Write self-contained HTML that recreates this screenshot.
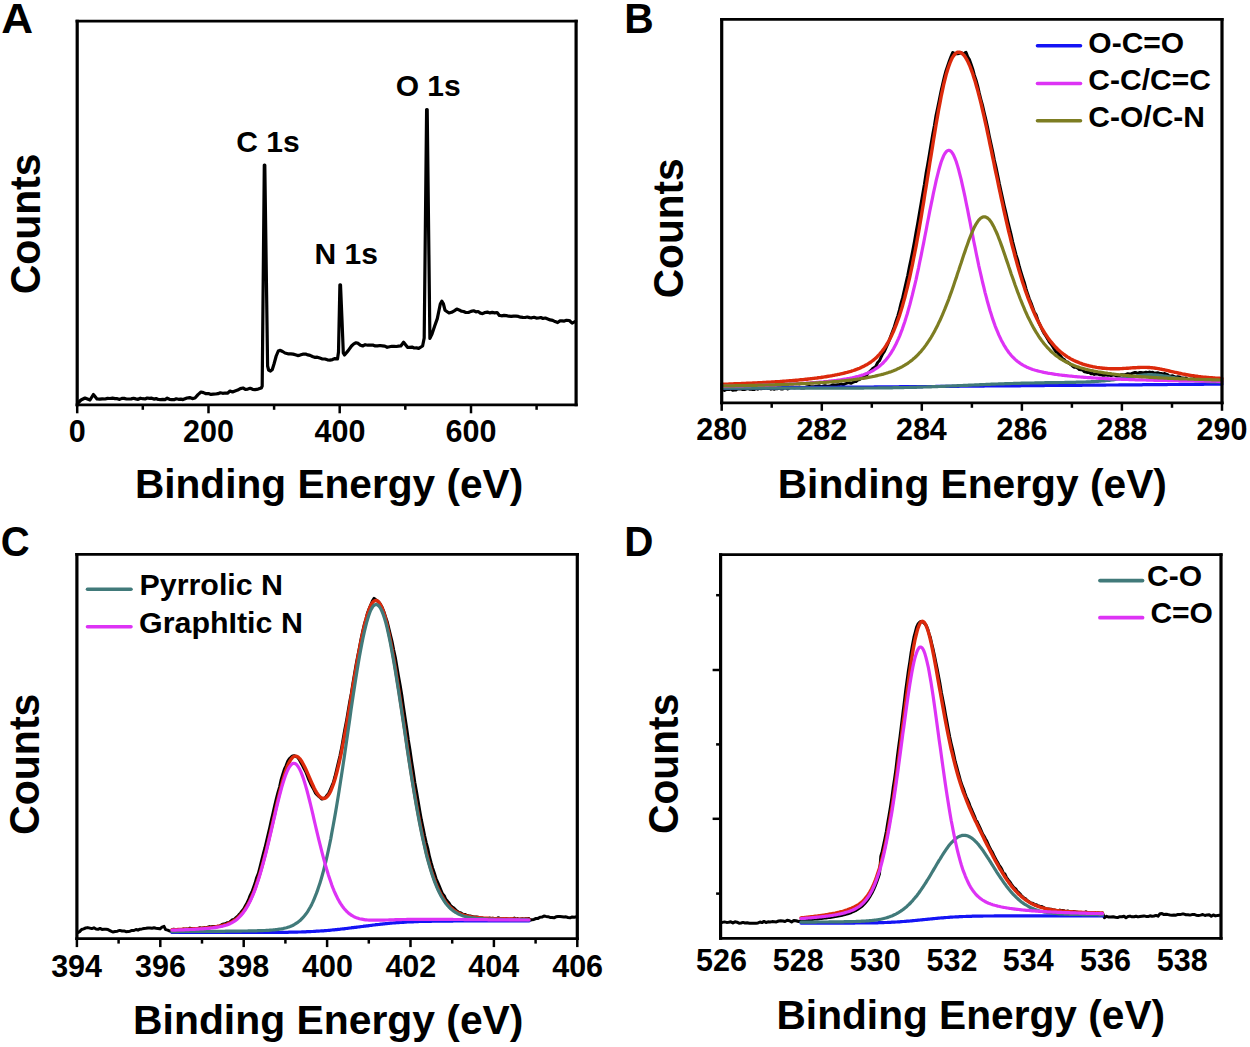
<!DOCTYPE html><html><head><meta charset="utf-8"><title>XPS spectra</title><style>html,body{margin:0;padding:0;background:#fff;width:1250px;height:1047px;overflow:hidden}svg{display:block}text{font-family:"Liberation Sans",sans-serif;font-weight:bold;fill:#000}</style></head><body>
<svg width="1250" height="1047" viewBox="0 0 1250 1047">
<polyline points="78.0,403.0 81.0,400.0 85.0,398.0 87.5,399.0 90.0,400.0 93.4,394.5 97.0,399.0 99.7,399.2 102.3,398.8 105.0,399.0 107.5,398.4 110.0,398.5 112.5,398.2 115.0,398.6 117.3,398.7 119.6,399.4 121.9,398.4 124.2,398.4 126.5,399.0 128.8,399.0 131.2,398.9 133.5,398.3 135.8,398.9 138.1,399.3 140.4,398.2 142.7,398.7 145.0,399.0 147.2,398.0 149.4,398.4 151.7,398.2 153.9,399.1 156.1,398.6 158.3,399.5 160.6,399.6 162.8,399.4 165.0,399.6 167.2,398.2 169.5,399.3 171.8,399.6 174.0,399.7 176.2,398.8 178.5,399.3 180.8,399.1 183.0,399.6 187.0,398.0 189.7,397.6 192.3,398.6 195.0,398.0 198.0,394.6 201.0,392.0 203.5,392.6 206.0,393.7 208.5,393.5 211.0,394.4 213.3,394.1 215.7,394.0 218.0,393.7 220.3,392.8 222.7,393.3 225.0,393.0 227.5,393.2 230.0,391.1 232.5,392.0 235.0,391.0 237.7,390.1 240.3,388.6 243.0,388.0 245.4,389.4 247.8,389.1 250.2,388.3 252.6,389.3 255.0,389.6 258.1,389.1 261.3,388.0 262.2,386.0 264.3,165.0 264.8,165.0 267.6,366.0 268.6,370.0 270.5,371.0 272.3,369.5 274.0,364.0 276.2,356.0 278.3,351.0 280.3,350.3 282.6,351.5 285.0,353.0 287.9,353.8 290.8,353.8 293.1,354.1 295.4,354.8 297.7,355.6 300.0,355.1 302.8,354.2 305.6,354.0 307.9,354.9 310.1,355.4 312.4,356.5 314.6,357.3 317.2,357.2 319.8,358.1 322.4,359.0 324.9,359.0 327.4,359.8 330.0,360.1 332.5,359.6 335.0,358.6 337.5,359.0 338.5,352.0 339.9,284.8 340.5,284.8 342.0,320.0 343.3,353.0 344.5,355.0 348.2,350.6 351.5,346.0 353.8,343.9 356.0,342.8 358.2,343.4 360.5,345.3 362.7,346.0 365.2,344.7 367.8,345.2 370.3,345.2 372.8,345.0 375.2,345.9 377.6,345.9 380.0,345.5 382.4,345.8 384.8,346.1 387.2,347.3 389.6,346.7 391.8,346.3 394.1,346.3 396.3,346.5 398.6,346.1 400.8,346.0 403.6,342.2 407.5,347.3 409.7,347.4 412.0,347.1 414.2,348.0 416.5,347.9 418.7,348.4 422.6,346.0 424.2,338.0 426.6,109.5 427.2,109.5 429.9,338.4 432.0,334.0 434.6,326.3 437.3,318.6 440.3,304.0 441.8,301.2 443.3,303.5 445.0,310.2 449.0,313.0 451.6,312.3 454.2,310.8 456.8,309.1 459.1,309.9 461.3,311.2 463.6,311.5 465.8,312.5 468.4,312.5 471.0,311.4 473.6,310.8 475.9,311.8 478.1,311.5 480.4,313.1 482.6,313.6 485.0,312.5 487.4,312.1 489.9,312.9 492.3,312.4 494.7,312.8 497.1,312.5 499.4,315.4 501.6,315.8 504.0,315.4 506.4,315.6 508.8,316.2 511.2,316.4 513.6,316.1 516.0,316.2 518.4,316.4 520.6,317.2 522.9,317.4 525.1,317.5 527.3,317.0 529.6,317.6 531.8,317.8 534.0,317.3 536.3,318.1 538.5,318.0 540.8,317.5 543.0,318.5 545.3,318.0 547.8,319.0 550.2,319.9 552.7,320.4 555.1,321.6 557.6,322.6 559.8,320.9 562.0,320.8 564.3,321.1 566.5,320.3 569.3,320.5 572.1,323.1 575.5,321.4" fill="none" stroke="#000" stroke-width="3.2" stroke-linejoin="round" stroke-linecap="round"/>
<path d="M75.60 21.20H577.70M75.60 404.80H577.70" stroke="#000" stroke-width="2.8" fill="none"/>
<path d="M77.20 19.80V406.20M576.10 19.80V406.20" stroke="#000" stroke-width="3.2" fill="none"/>
<line x1="77.2" y1="404.8" x2="77.2" y2="413.3" stroke="#000" stroke-width="2.5" stroke-linecap="butt"/>
<line x1="142.8" y1="404.8" x2="142.8" y2="409.8" stroke="#000" stroke-width="2.5" stroke-linecap="butt"/>
<line x1="208.5" y1="404.8" x2="208.5" y2="413.3" stroke="#000" stroke-width="2.5" stroke-linecap="butt"/>
<line x1="274.1" y1="404.8" x2="274.1" y2="409.8" stroke="#000" stroke-width="2.5" stroke-linecap="butt"/>
<line x1="339.7" y1="404.8" x2="339.7" y2="413.3" stroke="#000" stroke-width="2.5" stroke-linecap="butt"/>
<line x1="405.3" y1="404.8" x2="405.3" y2="409.8" stroke="#000" stroke-width="2.5" stroke-linecap="butt"/>
<line x1="471.0" y1="404.8" x2="471.0" y2="413.3" stroke="#000" stroke-width="2.5" stroke-linecap="butt"/>
<line x1="536.6" y1="404.8" x2="536.6" y2="409.8" stroke="#000" stroke-width="2.5" stroke-linecap="butt"/>
<text x="68.70" y="441.90" font-size="30.5">0</text>
<text x="183.08" y="441.90" font-size="30.5">200</text>
<text x="314.59" y="441.90" font-size="30.5">400</text>
<text x="445.60" y="441.90" font-size="30.5">600</text>
<text x="236.35" y="152.40" font-size="30">C 1s</text>
<text x="314.50" y="263.80" font-size="30">N 1s</text>
<text x="395.65" y="96.00" font-size="30">O 1s</text>
<text transform="translate(1.27,32.70) scale(1.0261,1)" font-size="43">A</text>
<text transform="translate(134.91,497.80) scale(0.9792,1)" font-size="41.5">Binding Energy (eV)</text>
<text transform="translate(39.50,294.37) rotate(-90) scale(0.9558,1)" font-size="42.8">Counts</text>
<polyline points="722.7,389.7 724.4,390.5 726.0,389.6 727.7,389.6 729.4,389.5 731.0,388.9 732.7,390.2 734.4,389.9 736.0,390.0 737.7,388.8 739.4,388.9 741.0,388.8 742.7,389.5 744.4,389.6 746.0,389.0 747.7,388.6 749.4,389.2 751.0,389.0 752.7,389.6 754.4,389.5 756.0,388.5 757.7,389.2 759.4,388.3 761.0,388.8 762.7,388.5 764.4,388.6 766.0,388.1 767.7,388.4 769.4,388.3 771.0,389.2 772.7,388.6 774.4,389.3 776.0,388.4 777.7,388.7 779.4,388.0 781.0,388.9 782.7,388.9 784.4,387.7 786.0,388.0 787.7,389.0 789.4,388.0 791.0,387.3 792.7,387.3 794.4,387.8 796.0,387.5 797.7,387.5 799.4,387.1 801.0,387.9 802.7,387.9 804.4,387.9 806.0,387.1 807.7,386.8 809.4,386.5 811.0,386.7 812.7,386.7 814.4,386.7 816.0,386.3 817.7,386.1 819.4,385.8 821.0,386.8 822.7,386.2 824.4,385.8 826.0,385.8 827.7,386.4 829.4,385.9 831.0,385.7 832.7,384.8 834.4,385.0 836.0,385.0 837.7,384.8 839.4,384.7 841.0,384.0 842.7,384.7 844.4,384.2 846.0,383.5 847.7,382.8 849.4,382.8 851.0,383.3 852.7,382.5 854.4,381.6 856.0,381.6 857.7,380.2 859.4,379.6 861.0,377.9 862.7,377.6 864.4,377.3 866.0,376.5 867.7,373.5 869.4,371.9 871.0,370.5 872.7,368.6 874.4,367.5 876.0,366.0 877.7,362.5 879.4,360.8 881.0,357.3 882.7,353.9 884.4,351.5 886.0,347.8 887.7,344.2 889.4,340.0 891.0,335.6 892.7,331.0 894.4,326.5 896.0,321.3 897.7,316.1 899.4,310.2 901.0,303.4 902.7,297.4 904.4,289.9 906.0,282.9 907.7,275.5 909.4,266.7 911.0,259.4 912.7,250.8 914.4,241.8 916.0,232.6 917.7,223.2 919.4,213.3 921.0,203.9 922.7,193.9 924.4,184.2 926.0,173.6 927.7,164.3 929.4,154.3 931.0,144.4 932.7,134.6 934.4,125.6 936.0,115.5 937.7,107.6 939.4,99.2 941.0,91.3 942.7,83.9 944.4,76.7 946.0,70.7 947.7,65.6 949.4,60.7 951.0,56.5 952.7,52.5 954.4,53.4 956.0,53.7 957.7,53.7 959.4,53.3 961.0,52.5 962.7,53.6 964.4,53.1 966.0,52.3 967.7,56.8 969.4,59.6 971.0,63.9 972.7,69.0 974.3,75.0 976.0,79.9 977.7,86.2 979.3,93.2 981.0,99.8 982.7,106.0 984.3,113.1 986.0,120.1 987.7,127.9 989.3,136.1 991.0,143.9 992.7,151.6 994.3,159.9 996.0,167.0 997.7,175.2 999.3,183.3 1001.0,191.0 1002.7,198.9 1004.3,206.1 1006.0,213.2 1007.7,220.8 1009.3,227.3 1011.0,234.0 1012.7,241.8 1014.3,248.1 1016.0,254.6 1017.7,259.9 1019.3,266.5 1021.0,272.2 1022.7,277.7 1024.3,282.5 1026.0,288.6 1027.7,294.1 1029.3,298.7 1031.0,302.8 1032.7,307.5 1034.3,312.1 1036.0,314.5 1037.7,319.5 1039.3,323.5 1041.0,327.0 1042.7,330.8 1044.3,333.7 1046.0,336.3 1047.7,339.1 1049.3,342.0 1051.0,343.9 1052.7,346.5 1054.3,349.2 1056.0,351.8 1057.7,352.8 1059.3,354.7 1061.0,356.6 1062.7,358.7 1064.3,359.6 1066.0,361.7 1067.7,362.0 1069.3,363.6 1071.0,364.7 1072.7,366.2 1074.3,367.3 1076.0,367.1 1077.7,368.2 1079.3,369.5 1081.0,369.8 1082.7,370.0 1084.3,371.8 1086.0,372.1 1087.7,372.6 1089.3,372.6 1091.0,373.7 1092.7,373.5 1094.3,374.4 1096.0,373.8 1097.7,374.0 1099.3,374.7 1101.0,374.5 1102.7,375.3 1104.3,375.2 1106.0,374.8 1107.7,375.3 1109.3,375.1 1111.0,375.7 1112.7,375.0 1114.3,375.0 1116.0,375.7 1117.7,376.1 1119.3,375.8 1121.0,374.8 1122.7,374.7 1124.3,375.2 1126.0,374.3 1127.7,373.7 1129.3,374.0 1131.0,373.9 1132.7,373.2 1134.3,372.6 1136.0,372.5 1137.7,373.3 1139.3,372.5 1141.0,372.6 1142.7,372.7 1144.3,372.8 1146.0,372.3 1147.7,372.7 1149.3,372.1 1151.0,372.4 1152.7,372.2 1154.3,373.3 1156.0,372.9 1157.7,372.8 1159.3,373.2 1161.0,373.5 1162.7,374.2 1164.3,373.5 1166.0,374.1 1167.7,374.7 1169.3,376.3 1171.0,375.9 1172.7,375.8 1174.3,376.5 1176.0,377.4 1177.7,376.7 1179.3,376.9 1181.0,377.9 1182.7,377.9 1184.3,378.2 1186.0,377.9 1187.7,379.3 1189.3,379.4 1191.0,379.1 1192.7,379.3 1194.3,378.3 1196.0,379.7 1197.7,379.4 1199.3,379.9 1201.0,380.1 1202.7,379.8 1204.3,379.3 1206.0,380.3 1207.7,379.9 1209.3,380.1 1211.0,380.1 1212.7,380.3 1214.3,379.4 1216.0,381.1 1217.7,380.7 1219.3,381.1 1221.0,381.6" fill="none" stroke="#000" stroke-width="3.0" stroke-linejoin="round" stroke-linecap="round"/>
<polyline points="721.7,384.3 723.0,384.2 724.2,384.2 725.5,384.1 726.7,384.1 728.0,384.1 729.2,384.0 730.5,384.0 731.7,383.9 733.0,383.9 734.2,383.8 735.5,383.8 736.7,383.7 738.0,383.7 739.3,383.6 740.5,383.6 741.8,383.5 743.0,383.5 744.3,383.4 745.5,383.4 746.8,383.3 748.0,383.3 749.3,383.2 750.5,383.2 751.8,383.1 753.0,383.0 754.3,383.0 755.6,382.9 756.8,382.9 758.1,382.8 759.3,382.7 760.6,382.7 761.8,382.6 763.1,382.5 764.3,382.5 765.6,382.4 766.8,382.3 768.1,382.3 769.3,382.2 770.6,382.1 771.9,382.0 773.1,382.0 774.4,381.9 775.6,381.8 776.9,381.7 778.1,381.6 779.4,381.6 780.6,381.5 781.9,381.4 783.1,381.3 784.4,381.2 785.6,381.1 786.9,381.0 788.2,380.9 789.4,380.8 790.7,380.7 791.9,380.6 793.2,380.5 794.4,380.4 795.7,380.3 796.9,380.2 798.2,380.1 799.4,379.9 800.7,379.8 801.9,379.7 803.2,379.6 804.5,379.4 805.7,379.3 807.0,379.2 808.2,379.0 809.5,378.9 810.7,378.7 812.0,378.6 813.2,378.4 814.5,378.3 815.7,378.1 817.0,378.0 818.2,377.8 819.5,377.6 820.8,377.5 822.0,377.3 823.3,377.1 824.5,376.9 825.8,376.7 827.0,376.5 828.3,376.3 829.5,376.1 830.8,375.9 832.0,375.7 833.3,375.4 834.5,375.2 835.8,374.9 837.1,374.7 838.3,374.4 839.6,374.2 840.8,373.9 842.1,373.6 843.3,373.3 844.6,373.0 845.8,372.7 847.1,372.4 848.3,372.0 849.6,371.7 850.9,371.3 852.1,370.9 853.4,370.5 854.6,370.1 855.9,369.6 857.1,369.2 858.4,368.7 859.6,368.2 860.9,367.6 862.1,367.0 863.4,366.4 864.6,365.8 865.9,365.1 867.2,364.4 868.4,363.6 869.7,362.8 870.9,362.0 872.2,361.0 873.4,360.1 874.7,359.0 875.9,357.9 877.2,356.7 878.4,355.4 879.7,354.1 880.9,352.6 882.2,351.1 883.5,349.4 884.7,347.6 886.0,345.7 887.2,343.7 888.5,341.5 889.7,339.2 891.0,336.8 892.2,334.1 893.5,331.3 894.7,328.4 896.0,325.2 897.2,321.9 898.5,318.4 899.8,314.6 901.0,310.7 902.3,306.5 903.5,302.1 904.8,297.5 906.0,292.7 907.3,287.6 908.5,282.4 909.8,276.8 911.0,271.1 912.3,265.1 913.5,258.9 914.8,252.5 916.1,245.9 917.3,239.1 918.6,232.1 919.8,224.9 921.1,217.5 922.3,210.0 923.6,202.4 924.8,194.6 926.1,186.8 927.3,178.9 928.6,171.0 929.8,163.0 931.1,155.1 932.4,147.2 933.6,139.4 934.9,131.8 936.1,124.3 937.4,117.0 938.6,109.9 939.9,103.2 941.1,96.7 942.4,90.6 943.6,84.9 944.9,79.7 946.1,74.8 947.4,70.4 948.7,66.5 949.9,63.1 951.2,60.1 952.4,57.6 953.7,55.6 954.9,54.1 956.2,53.0 957.4,52.3 958.7,52.1 959.9,52.2 961.2,52.8 962.4,53.7 963.7,55.0 965.0,56.6 966.2,58.6 967.5,60.9 968.7,63.5 970.0,66.4 971.2,69.6 972.5,73.1 973.7,76.9 975.0,80.9 976.2,85.2 977.5,89.7 978.7,94.4 980.0,99.4 981.3,104.5 982.5,109.8 983.8,115.3 985.0,120.9 986.3,126.6 987.5,132.4 988.8,138.4 990.0,144.3 991.3,150.4 992.5,156.4 993.8,162.5 995.0,168.6 996.3,174.6 997.6,180.7 998.8,186.6 1000.1,192.6 1001.3,198.4 1002.6,204.2 1003.8,209.9 1005.1,215.5 1006.3,221.0 1007.6,226.5 1008.8,231.8 1010.1,236.9 1011.3,242.0 1012.6,247.0 1013.9,251.8 1015.1,256.5 1016.4,261.1 1017.6,265.6 1018.9,269.9 1020.1,274.1 1021.4,278.2 1022.6,282.2 1023.9,286.0 1025.1,289.8 1026.4,293.4 1027.6,296.8 1028.9,300.2 1030.2,303.4 1031.4,306.5 1032.7,309.5 1033.9,312.4 1035.2,315.2 1036.4,317.9 1037.7,320.5 1038.9,322.9 1040.2,325.3 1041.4,327.6 1042.7,329.7 1043.9,331.8 1045.2,333.8 1046.5,335.7 1047.7,337.5 1049.0,339.2 1050.2,340.9 1051.5,342.4 1052.7,343.9 1054.0,345.4 1055.2,346.7 1056.5,348.0 1057.7,349.2 1059.0,350.4 1060.2,351.5 1061.5,352.6 1062.8,353.6 1064.0,354.5 1065.3,355.4 1066.5,356.3 1067.8,357.1 1069.0,357.8 1070.3,358.6 1071.5,359.3 1072.8,359.9 1074.0,360.5 1075.3,361.1 1076.5,361.7 1077.8,362.2 1079.1,362.7 1080.3,363.2 1081.6,363.6 1082.8,364.1 1084.1,364.5 1085.3,364.8 1086.6,365.2 1087.8,365.5 1089.1,365.8 1090.3,366.1 1091.6,366.4 1092.8,366.7 1094.1,366.9 1095.4,367.1 1096.6,367.4 1097.9,367.6 1099.1,367.7 1100.4,367.9 1101.6,368.0 1102.9,368.2 1104.1,368.3 1105.4,368.4 1106.6,368.5 1107.9,368.6 1109.2,368.6 1110.4,368.7 1111.7,368.7 1112.9,368.7 1114.2,368.7 1115.4,368.7 1116.7,368.7 1117.9,368.7 1119.2,368.7 1120.4,368.6 1121.7,368.6 1122.9,368.5 1124.2,368.4 1125.5,368.4 1126.7,368.3 1128.0,368.2 1129.2,368.1 1130.5,368.0 1131.7,367.9 1133.0,367.8 1134.2,367.8 1135.5,367.7 1136.7,367.6 1138.0,367.5 1139.2,367.5 1140.5,367.4 1141.8,367.4 1143.0,367.4 1144.3,367.4 1145.5,367.4 1146.8,367.4 1148.0,367.5 1149.3,367.5 1150.5,367.6 1151.8,367.7 1153.0,367.9 1154.3,368.0 1155.5,368.2 1156.8,368.4 1158.1,368.6 1159.3,368.8 1160.6,369.1 1161.8,369.3 1163.1,369.6 1164.3,369.8 1165.6,370.1 1166.8,370.4 1168.1,370.7 1169.3,371.0 1170.6,371.3 1171.8,371.6 1173.1,371.9 1174.4,372.2 1175.6,372.4 1176.9,372.7 1178.1,373.0 1179.4,373.3 1180.6,373.5 1181.9,373.8 1183.1,374.1 1184.4,374.3 1185.6,374.5 1186.9,374.8 1188.1,375.0 1189.4,375.2 1190.7,375.4 1191.9,375.6 1193.2,375.8 1194.4,376.0 1195.7,376.2 1196.9,376.3 1198.2,376.5 1199.4,376.6 1200.7,376.8 1201.9,376.9 1203.2,377.1 1204.4,377.2 1205.7,377.3 1207.0,377.4 1208.2,377.5 1209.5,377.6 1210.7,377.7 1212.0,377.8 1213.2,377.9 1214.5,378.0 1215.7,378.1 1217.0,378.2 1218.2,378.2 1219.5,378.3 1220.7,378.4 1222.0,378.4" fill="none" stroke="#dc2a0c" stroke-width="3.4" stroke-linejoin="round" stroke-linecap="round"/>
<polyline points="721.7,388.2 723.0,388.2 724.2,388.2 725.5,388.2 726.7,388.2 728.0,388.2 729.2,388.1 730.5,388.1 731.7,388.1 733.0,388.1 734.2,388.1 735.5,388.1 736.7,388.1 738.0,388.1 739.3,388.1 740.5,388.0 741.8,388.0 743.0,388.0 744.3,388.0 745.5,388.0 746.8,388.0 748.0,388.0 749.3,388.0 750.5,388.0 751.8,388.0 753.0,387.9 754.3,387.9 755.6,387.9 756.8,387.9 758.1,387.9 759.3,387.9 760.6,387.9 761.8,387.9 763.1,387.9 764.3,387.9 765.6,387.8 766.8,387.8 768.1,387.8 769.3,387.8 770.6,387.8 771.9,387.8 773.1,387.8 774.4,387.8 775.6,387.8 776.9,387.8 778.1,387.7 779.4,387.7 780.6,387.7 781.9,387.7 783.1,387.7 784.4,387.7 785.6,387.7 786.9,387.7 788.2,387.7 789.4,387.6 790.7,387.6 791.9,387.6 793.2,387.6 794.4,387.6 795.7,387.6 796.9,387.6 798.2,387.6 799.4,387.6 800.7,387.6 801.9,387.5 803.2,387.5 804.5,387.5 805.7,387.5 807.0,387.5 808.2,387.5 809.5,387.5 810.7,387.5 812.0,387.5 813.2,387.5 814.5,387.4 815.7,387.4 817.0,387.4 818.2,387.4 819.5,387.4 820.8,387.4 822.0,387.4 823.3,387.4 824.5,387.4 825.8,387.3 827.0,387.3 828.3,387.3 829.5,387.3 830.8,387.3 832.0,387.3 833.3,387.3 834.5,387.3 835.8,387.3 837.1,387.3 838.3,387.2 839.6,387.2 840.8,387.2 842.1,387.2 843.3,387.2 844.6,387.2 845.8,387.2 847.1,387.2 848.3,387.2 849.6,387.2 850.9,387.1 852.1,387.1 853.4,387.1 854.6,387.1 855.9,387.1 857.1,387.1 858.4,387.1 859.6,387.1 860.9,387.1 862.1,387.1 863.4,387.0 864.6,387.0 865.9,387.0 867.2,387.0 868.4,387.0 869.7,387.0 870.9,387.0 872.2,387.0 873.4,387.0 874.7,386.9 875.9,386.9 877.2,386.9 878.4,386.9 879.7,386.9 880.9,386.9 882.2,386.9 883.5,386.9 884.7,386.9 886.0,386.9 887.2,386.8 888.5,386.8 889.7,386.8 891.0,386.8 892.2,386.8 893.5,386.8 894.7,386.8 896.0,386.8 897.2,386.8 898.5,386.8 899.8,386.7 901.0,386.7 902.3,386.7 903.5,386.7 904.8,386.7 906.0,386.7 907.3,386.7 908.5,386.7 909.8,386.7 911.0,386.6 912.3,386.6 913.5,386.6 914.8,386.6 916.1,386.6 917.3,386.6 918.6,386.6 919.8,386.6 921.1,386.6 922.3,386.6 923.6,386.5 924.8,386.5 926.1,386.5 927.3,386.5 928.6,386.5 929.8,386.5 931.1,386.5 932.4,386.5 933.6,386.5 934.9,386.5 936.1,386.4 937.4,386.4 938.6,386.4 939.9,386.4 941.1,386.4 942.4,386.4 943.6,386.4 944.9,386.4 946.1,386.4 947.4,386.4 948.7,386.3 949.9,386.3 951.2,386.3 952.4,386.3 953.7,386.3 954.9,386.3 956.2,386.3 957.4,386.3 958.7,386.3 959.9,386.2 961.2,386.2 962.4,386.2 963.7,386.2 965.0,386.2 966.2,386.2 967.5,386.2 968.7,386.2 970.0,386.2 971.2,386.2 972.5,386.1 973.7,386.1 975.0,386.1 976.2,386.1 977.5,386.1 978.7,386.1 980.0,386.1 981.3,386.1 982.5,386.1 983.8,386.1 985.0,386.0 986.3,386.0 987.5,386.0 988.8,386.0 990.0,386.0 991.3,386.0 992.5,386.0 993.8,386.0 995.0,386.0 996.3,386.0 997.6,385.9 998.8,385.9 1000.1,385.9 1001.3,385.9 1002.6,385.9 1003.8,385.9 1005.1,385.9 1006.3,385.9 1007.6,385.9 1008.8,385.8 1010.1,385.8 1011.3,385.8 1012.6,385.8 1013.9,385.8 1015.1,385.8 1016.4,385.8 1017.6,385.8 1018.9,385.8 1020.1,385.8 1021.4,385.7 1022.6,385.7 1023.9,385.7 1025.1,385.7 1026.4,385.7 1027.6,385.7 1028.9,385.7 1030.2,385.7 1031.4,385.7 1032.7,385.7 1033.9,385.6 1035.2,385.6 1036.4,385.6 1037.7,385.6 1038.9,385.6 1040.2,385.6 1041.4,385.6 1042.7,385.6 1043.9,385.6 1045.2,385.5 1046.5,385.5 1047.7,385.5 1049.0,385.5 1050.2,385.5 1051.5,385.5 1052.7,385.5 1054.0,385.5 1055.2,385.5 1056.5,385.5 1057.7,385.4 1059.0,385.4 1060.2,385.4 1061.5,385.4 1062.8,385.4 1064.0,385.4 1065.3,385.4 1066.5,385.4 1067.8,385.4 1069.0,385.4 1070.3,385.3 1071.5,385.3 1072.8,385.3 1074.0,385.3 1075.3,385.3 1076.5,385.3 1077.8,385.3 1079.1,385.3 1080.3,385.3 1081.6,385.3 1082.8,385.2 1084.1,385.2 1085.3,385.2 1086.6,385.2 1087.8,385.2 1089.1,385.2 1090.3,385.2 1091.6,385.2 1092.8,385.2 1094.1,385.1 1095.4,385.1 1096.6,385.1 1097.9,385.1 1099.1,385.1 1100.4,385.1 1101.6,385.1 1102.9,385.1 1104.1,385.1 1105.4,385.1 1106.6,385.0 1107.9,385.0 1109.2,385.0 1110.4,385.0 1111.7,385.0 1112.9,385.0 1114.2,385.0 1115.4,385.0 1116.7,385.0 1117.9,385.0 1119.2,384.9 1120.4,384.9 1121.7,384.9 1122.9,384.9 1124.2,384.9 1125.5,384.9 1126.7,384.9 1128.0,384.9 1129.2,384.9 1130.5,384.9 1131.7,384.8 1133.0,384.8 1134.2,384.8 1135.5,384.8 1136.7,384.8 1138.0,384.8 1139.2,384.8 1140.5,384.8 1141.8,384.8 1143.0,384.7 1144.3,384.7 1145.5,384.7 1146.8,384.7 1148.0,384.7 1149.3,384.7 1150.5,384.7 1151.8,384.7 1153.0,384.7 1154.3,384.7 1155.5,384.6 1156.8,384.6 1158.1,384.6 1159.3,384.6 1160.6,384.6 1161.8,384.6 1163.1,384.6 1164.3,384.6 1165.6,384.6 1166.8,384.6 1168.1,384.5 1169.3,384.5 1170.6,384.5 1171.8,384.5 1173.1,384.5 1174.4,384.5 1175.6,384.5 1176.9,384.5 1178.1,384.5 1179.4,384.4 1180.6,384.4 1181.9,384.4 1183.1,384.4 1184.4,384.4 1185.6,384.4 1186.9,384.4 1188.1,384.4 1189.4,384.4 1190.7,384.4 1191.9,384.3 1193.2,384.3 1194.4,384.3 1195.7,384.3 1196.9,384.3 1198.2,384.3 1199.4,384.3 1200.7,384.3 1201.9,384.3 1203.2,384.3 1204.4,384.2 1205.7,384.2 1207.0,384.2 1208.2,384.2 1209.5,384.2 1210.7,384.2 1212.0,384.2 1213.2,384.2 1214.5,384.2 1215.7,384.2 1217.0,384.1 1218.2,384.1 1219.5,384.1 1220.7,384.1 1222.0,384.1" fill="none" stroke="#1414f5" stroke-width="3.2" stroke-linejoin="round" stroke-linecap="round"/>
<polyline points="721.7,388.2 723.0,388.2 724.2,388.2 725.5,388.2 726.7,388.2 728.0,388.2 729.2,388.2 730.5,388.2 731.7,388.2 733.0,388.2 734.2,388.2 735.5,388.2 736.7,388.2 738.0,388.2 739.3,388.2 740.5,388.2 741.8,388.2 743.0,388.2 744.3,388.2 745.5,388.2 746.8,388.2 748.0,388.2 749.3,388.2 750.5,388.2 751.8,388.2 753.0,388.2 754.3,388.2 755.6,388.2 756.8,388.2 758.1,388.2 759.3,388.2 760.6,388.2 761.8,388.2 763.1,388.2 764.3,388.2 765.6,388.2 766.8,388.2 768.1,388.2 769.3,388.2 770.6,388.2 771.9,388.2 773.1,388.2 774.4,388.2 775.6,388.2 776.9,388.2 778.1,388.2 779.4,388.2 780.6,388.2 781.9,388.2 783.1,388.2 784.4,388.2 785.6,388.2 786.9,388.2 788.2,388.2 789.4,388.2 790.7,388.2 791.9,388.2 793.2,388.2 794.4,388.2 795.7,388.2 796.9,388.2 798.2,388.2 799.4,388.2 800.7,388.2 801.9,388.2 803.2,388.2 804.5,388.2 805.7,388.2 807.0,388.2 808.2,388.2 809.5,388.2 810.7,388.2 812.0,388.2 813.2,388.2 814.5,388.2 815.7,388.2 817.0,388.2 818.2,388.2 819.5,388.2 820.8,388.2 822.0,388.2 823.3,388.2 824.5,388.2 825.8,388.2 827.0,388.2 828.3,388.2 829.5,388.2 830.8,388.2 832.0,388.2 833.3,388.2 834.5,388.1 835.8,388.1 837.1,388.1 838.3,388.1 839.6,388.1 840.8,388.1 842.1,388.1 843.3,388.1 844.6,388.1 845.8,388.1 847.1,388.1 848.3,388.1 849.6,388.1 850.9,388.1 852.1,388.1 853.4,388.1 854.6,388.1 855.9,388.1 857.1,388.1 858.4,388.1 859.6,388.1 860.9,388.1 862.1,388.1 863.4,388.1 864.6,388.0 865.9,388.0 867.2,388.0 868.4,388.0 869.7,388.0 870.9,388.0 872.2,388.0 873.4,388.0 874.7,388.0 875.9,388.0 877.2,388.0 878.4,387.9 879.7,387.9 880.9,387.9 882.2,387.9 883.5,387.9 884.7,387.9 886.0,387.9 887.2,387.8 888.5,387.8 889.7,387.8 891.0,387.8 892.2,387.8 893.5,387.7 894.7,387.7 896.0,387.7 897.2,387.7 898.5,387.7 899.8,387.6 901.0,387.6 902.3,387.6 903.5,387.6 904.8,387.5 906.0,387.5 907.3,387.5 908.5,387.5 909.8,387.4 911.0,387.4 912.3,387.4 913.5,387.3 914.8,387.3 916.1,387.3 917.3,387.2 918.6,387.2 919.8,387.2 921.1,387.1 922.3,387.1 923.6,387.0 924.8,387.0 926.1,387.0 927.3,386.9 928.6,386.9 929.8,386.8 931.1,386.8 932.4,386.7 933.6,386.7 934.9,386.6 936.1,386.6 937.4,386.6 938.6,386.5 939.9,386.5 941.1,386.4 942.4,386.4 943.6,386.3 944.9,386.3 946.1,386.2 947.4,386.1 948.7,386.1 949.9,386.0 951.2,386.0 952.4,385.9 953.7,385.9 954.9,385.8 956.2,385.8 957.4,385.7 958.7,385.7 959.9,385.6 961.2,385.5 962.4,385.5 963.7,385.4 965.0,385.4 966.2,385.3 967.5,385.3 968.7,385.2 970.0,385.1 971.2,385.1 972.5,385.0 973.7,385.0 975.0,384.9 976.2,384.9 977.5,384.8 978.7,384.8 980.0,384.7 981.3,384.6 982.5,384.6 983.8,384.5 985.0,384.5 986.3,384.4 987.5,384.4 988.8,384.3 990.0,384.3 991.3,384.2 992.5,384.2 993.8,384.1 995.0,384.1 996.3,384.0 997.6,384.0 998.8,383.9 1000.1,383.9 1001.3,383.8 1002.6,383.8 1003.8,383.8 1005.1,383.7 1006.3,383.7 1007.6,383.6 1008.8,383.6 1010.1,383.6 1011.3,383.5 1012.6,383.5 1013.9,383.4 1015.1,383.4 1016.4,383.4 1017.6,383.3 1018.9,383.3 1020.1,383.3 1021.4,383.2 1022.6,383.2 1023.9,383.2 1025.1,383.1 1026.4,383.1 1027.6,383.1 1028.9,383.1 1030.2,383.0 1031.4,383.0 1032.7,383.0 1033.9,383.0 1035.2,382.9 1036.4,382.9 1037.7,382.9 1038.9,382.9 1040.2,382.8 1041.4,382.8 1042.7,382.8 1043.9,382.8 1045.2,382.7 1046.5,382.7 1047.7,382.7 1049.0,382.7 1050.2,382.7 1051.5,382.6 1052.7,382.6 1054.0,382.6 1055.2,382.6 1056.5,382.6 1057.7,382.6 1059.0,382.5 1060.2,382.5 1061.5,382.5 1062.8,382.5 1064.0,382.5 1065.3,382.4 1066.5,382.4 1067.8,382.4 1069.0,382.4 1070.3,382.4 1071.5,382.3 1072.8,382.3 1074.0,382.3 1075.3,382.3 1076.5,382.2 1077.8,382.2 1079.1,382.2 1080.3,382.1 1081.6,382.1 1082.8,382.1 1084.1,382.0 1085.3,382.0 1086.6,381.9 1087.8,381.9 1089.1,381.8 1090.3,381.8 1091.6,381.7 1092.8,381.6 1094.1,381.6 1095.4,381.5 1096.6,381.4 1097.9,381.3 1099.1,381.2 1100.4,381.1 1101.6,381.0 1102.9,380.9 1104.1,380.8 1105.4,380.7 1106.6,380.5 1107.9,380.4 1109.2,380.3 1110.4,380.1 1111.7,379.9 1112.9,379.8 1114.2,379.6 1115.4,379.4 1116.7,379.2 1117.9,379.0 1119.2,378.8 1120.4,378.6 1121.7,378.4 1122.9,378.2 1124.2,378.0 1125.5,377.8 1126.7,377.5 1128.0,377.3 1129.2,377.1 1130.5,376.9 1131.7,376.7 1133.0,376.4 1134.2,376.2 1135.5,376.0 1136.7,375.8 1138.0,375.6 1139.2,375.5 1140.5,375.3 1141.8,375.2 1143.0,375.0 1144.3,374.9 1145.5,374.8 1146.8,374.8 1148.0,374.7 1149.3,374.7 1150.5,374.7 1151.8,374.7 1153.0,374.8 1154.3,374.8 1155.5,374.9 1156.8,375.0 1158.1,375.1 1159.3,375.3 1160.6,375.4 1161.8,375.6 1163.1,375.8 1164.3,376.0 1165.6,376.2 1166.8,376.4 1168.1,376.6 1169.3,376.8 1170.6,377.1 1171.8,377.3 1173.1,377.5 1174.4,377.7 1175.6,378.0 1176.9,378.2 1178.1,378.4 1179.4,378.6 1180.6,378.8 1181.9,379.0 1183.1,379.2 1184.4,379.4 1185.6,379.6 1186.9,379.7 1188.1,379.9 1189.4,380.1 1190.7,380.2 1191.9,380.4 1193.2,380.5 1194.4,380.6 1195.7,380.8 1196.9,380.9 1198.2,381.0 1199.4,381.1 1200.7,381.2 1201.9,381.3 1203.2,381.4 1204.4,381.5 1205.7,381.5 1207.0,381.6 1208.2,381.7 1209.5,381.7 1210.7,381.8 1212.0,381.8 1213.2,381.9 1214.5,381.9 1215.7,382.0 1217.0,382.0 1218.2,382.0 1219.5,382.1 1220.7,382.1 1222.0,382.1" fill="none" stroke="#417a7a" stroke-width="3.2" stroke-linejoin="round" stroke-linecap="round"/>
<polyline points="721.7,386.2 723.0,386.2 724.2,386.1 725.5,386.1 726.7,386.1 728.0,386.1 729.2,386.1 730.5,386.0 731.7,386.0 733.0,386.0 734.2,386.0 735.5,385.9 736.7,385.9 738.0,385.9 739.3,385.9 740.5,385.8 741.8,385.8 743.0,385.8 744.3,385.7 745.5,385.7 746.8,385.7 748.0,385.6 749.3,385.6 750.5,385.6 751.8,385.5 753.0,385.5 754.3,385.5 755.6,385.4 756.8,385.4 758.1,385.4 759.3,385.3 760.6,385.3 761.8,385.3 763.1,385.2 764.3,385.2 765.6,385.1 766.8,385.1 768.1,385.1 769.3,385.0 770.6,385.0 771.9,384.9 773.1,384.9 774.4,384.8 775.6,384.8 776.9,384.7 778.1,384.7 779.4,384.6 780.6,384.6 781.9,384.5 783.1,384.5 784.4,384.4 785.6,384.4 786.9,384.3 788.2,384.3 789.4,384.2 790.7,384.1 791.9,384.1 793.2,384.0 794.4,383.9 795.7,383.9 796.9,383.8 798.2,383.7 799.4,383.7 800.7,383.6 801.9,383.5 803.2,383.4 804.5,383.4 805.7,383.3 807.0,383.2 808.2,383.1 809.5,383.0 810.7,382.9 812.0,382.8 813.2,382.7 814.5,382.6 815.7,382.5 817.0,382.4 818.2,382.3 819.5,382.2 820.8,382.1 822.0,382.0 823.3,381.9 824.5,381.7 825.8,381.6 827.0,381.5 828.3,381.4 829.5,381.2 830.8,381.1 832.0,380.9 833.3,380.8 834.5,380.6 835.8,380.5 837.1,380.3 838.3,380.1 839.6,380.0 840.8,379.8 842.1,379.6 843.3,379.4 844.6,379.2 845.8,379.0 847.1,378.7 848.3,378.5 849.6,378.3 850.9,378.0 852.1,377.8 853.4,377.5 854.6,377.2 855.9,376.9 857.1,376.6 858.4,376.3 859.6,375.9 860.9,375.5 862.1,375.1 863.4,374.7 864.6,374.3 865.9,373.8 867.2,373.3 868.4,372.8 869.7,372.2 870.9,371.6 872.2,371.0 873.4,370.3 874.7,369.5 875.9,368.7 877.2,367.9 878.4,367.0 879.7,366.0 880.9,364.9 882.2,363.8 883.5,362.5 884.7,361.2 886.0,359.8 887.2,358.3 888.5,356.6 889.7,354.9 891.0,353.0 892.2,350.9 893.5,348.8 894.7,346.5 896.0,344.0 897.2,341.4 898.5,338.6 899.8,335.6 901.0,332.4 902.3,329.1 903.5,325.5 904.8,321.8 906.0,317.9 907.3,313.7 908.5,309.4 909.8,304.9 911.0,300.2 912.3,295.2 913.5,290.1 914.8,284.8 916.1,279.3 917.3,273.6 918.6,267.8 919.8,261.8 921.1,255.7 922.3,249.5 923.6,243.1 924.8,236.7 926.1,230.3 927.3,223.8 928.6,217.3 929.8,210.9 931.1,204.6 932.4,198.4 933.6,192.3 934.9,186.5 936.1,180.9 937.4,175.6 938.6,170.8 939.9,166.3 941.1,162.3 942.4,158.8 943.6,155.8 944.9,153.5 946.1,151.8 947.4,150.7 948.7,150.3 949.9,150.6 951.2,151.5 952.4,153.1 953.7,155.3 954.9,158.2 956.2,161.5 957.4,165.4 958.7,169.8 959.9,174.6 961.2,179.7 962.4,185.2 963.7,190.9 965.0,196.9 966.2,203.0 967.5,209.2 968.7,215.5 970.0,221.9 971.2,228.3 972.5,234.6 973.7,241.0 975.0,247.2 976.2,253.3 977.5,259.4 978.7,265.3 980.0,271.0 981.3,276.6 982.5,282.0 983.8,287.2 985.0,292.3 986.3,297.1 987.5,301.8 988.8,306.2 990.0,310.5 991.3,314.6 992.5,318.4 993.8,322.1 995.0,325.6 996.3,328.8 997.6,331.9 998.8,334.8 1000.1,337.6 1001.3,340.2 1002.6,342.6 1003.8,344.8 1005.1,346.9 1006.3,348.9 1007.6,350.7 1008.8,352.5 1010.1,354.0 1011.3,355.5 1012.6,356.9 1013.9,358.2 1015.1,359.4 1016.4,360.5 1017.6,361.5 1018.9,362.4 1020.1,363.3 1021.4,364.1 1022.6,364.9 1023.9,365.6 1025.1,366.2 1026.4,366.9 1027.6,367.4 1028.9,368.0 1030.2,368.5 1031.4,368.9 1032.7,369.4 1033.9,369.8 1035.2,370.2 1036.4,370.5 1037.7,370.9 1038.9,371.2 1040.2,371.5 1041.4,371.8 1042.7,372.1 1043.9,372.4 1045.2,372.6 1046.5,372.8 1047.7,373.1 1049.0,373.3 1050.2,373.5 1051.5,373.7 1052.7,373.9 1054.0,374.1 1055.2,374.3 1056.5,374.5 1057.7,374.6 1059.0,374.8 1060.2,375.0 1061.5,375.1 1062.8,375.3 1064.0,375.4 1065.3,375.6 1066.5,375.7 1067.8,375.8 1069.0,376.0 1070.3,376.1 1071.5,376.2 1072.8,376.3 1074.0,376.5 1075.3,376.6 1076.5,376.7 1077.8,376.8 1079.1,376.9 1080.3,377.0 1081.6,377.1 1082.8,377.2 1084.1,377.3 1085.3,377.4 1086.6,377.5 1087.8,377.6 1089.1,377.6 1090.3,377.7 1091.6,377.8 1092.8,377.9 1094.1,378.0 1095.4,378.0 1096.6,378.1 1097.9,378.2 1099.1,378.3 1100.4,378.3 1101.6,378.4 1102.9,378.5 1104.1,378.5 1105.4,378.6 1106.6,378.6 1107.9,378.7 1109.2,378.8 1110.4,378.8 1111.7,378.9 1112.9,378.9 1114.2,379.0 1115.4,379.0 1116.7,379.1 1117.9,379.1 1119.2,379.2 1120.4,379.2 1121.7,379.3 1122.9,379.3 1124.2,379.4 1125.5,379.4 1126.7,379.5 1128.0,379.5 1129.2,379.6 1130.5,379.6 1131.7,379.6 1133.0,379.7 1134.2,379.7 1135.5,379.8 1136.7,379.8 1138.0,379.8 1139.2,379.9 1140.5,379.9 1141.8,379.9 1143.0,380.0 1144.3,380.0 1145.5,380.0 1146.8,380.1 1148.0,380.1 1149.3,380.1 1150.5,380.2 1151.8,380.2 1153.0,380.2 1154.3,380.3 1155.5,380.3 1156.8,380.3 1158.1,380.4 1159.3,380.4 1160.6,380.4 1161.8,380.4 1163.1,380.5 1164.3,380.5 1165.6,380.5 1166.8,380.5 1168.1,380.6 1169.3,380.6 1170.6,380.6 1171.8,380.6 1173.1,380.6 1174.4,380.7 1175.6,380.7 1176.9,380.7 1178.1,380.7 1179.4,380.8 1180.6,380.8 1181.9,380.8 1183.1,380.8 1184.4,380.8 1185.6,380.9 1186.9,380.9 1188.1,380.9 1189.4,380.9 1190.7,380.9 1191.9,380.9 1193.2,381.0 1194.4,381.0 1195.7,381.0 1196.9,381.0 1198.2,381.0 1199.4,381.1 1200.7,381.1 1201.9,381.1 1203.2,381.1 1204.4,381.1 1205.7,381.1 1207.0,381.1 1208.2,381.2 1209.5,381.2 1210.7,381.2 1212.0,381.2 1213.2,381.2 1214.5,381.2 1215.7,381.2 1217.0,381.3 1218.2,381.3 1219.5,381.3 1220.7,381.3 1222.0,381.3" fill="none" stroke="#dd33f5" stroke-width="3.2" stroke-linejoin="round" stroke-linecap="round"/>
<polyline points="721.7,386.0 723.0,386.0 724.2,385.9 725.5,385.9 726.7,385.9 728.0,385.9 729.2,385.8 730.5,385.8 731.7,385.8 733.0,385.8 734.2,385.8 735.5,385.7 736.7,385.7 738.0,385.7 739.3,385.7 740.5,385.6 741.8,385.6 743.0,385.6 744.3,385.6 745.5,385.5 746.8,385.5 748.0,385.5 749.3,385.4 750.5,385.4 751.8,385.4 753.0,385.4 754.3,385.3 755.6,385.3 756.8,385.3 758.1,385.2 759.3,385.2 760.6,385.2 761.8,385.1 763.1,385.1 764.3,385.1 765.6,385.0 766.8,385.0 768.1,385.0 769.3,384.9 770.6,384.9 771.9,384.8 773.1,384.8 774.4,384.8 775.6,384.7 776.9,384.7 778.1,384.6 779.4,384.6 780.6,384.6 781.9,384.5 783.1,384.5 784.4,384.4 785.6,384.4 786.9,384.3 788.2,384.3 789.4,384.2 790.7,384.2 791.9,384.1 793.2,384.1 794.4,384.0 795.7,384.0 796.9,383.9 798.2,383.9 799.4,383.8 800.7,383.7 801.9,383.7 803.2,383.6 804.5,383.6 805.7,383.5 807.0,383.4 808.2,383.4 809.5,383.3 810.7,383.2 812.0,383.2 813.2,383.1 814.5,383.0 815.7,382.9 817.0,382.9 818.2,382.8 819.5,382.7 820.8,382.6 822.0,382.5 823.3,382.5 824.5,382.4 825.8,382.3 827.0,382.2 828.3,382.1 829.5,382.0 830.8,381.9 832.0,381.8 833.3,381.7 834.5,381.6 835.8,381.5 837.1,381.4 838.3,381.3 839.6,381.2 840.8,381.0 842.1,380.9 843.3,380.8 844.6,380.7 845.8,380.5 847.1,380.4 848.3,380.3 849.6,380.1 850.9,380.0 852.1,379.8 853.4,379.7 854.6,379.5 855.9,379.3 857.1,379.2 858.4,379.0 859.6,378.8 860.9,378.6 862.1,378.5 863.4,378.3 864.6,378.1 865.9,377.9 867.2,377.6 868.4,377.4 869.7,377.2 870.9,377.0 872.2,376.7 873.4,376.5 874.7,376.2 875.9,375.9 877.2,375.6 878.4,375.3 879.7,375.0 880.9,374.7 882.2,374.4 883.5,374.1 884.7,373.7 886.0,373.3 887.2,372.9 888.5,372.5 889.7,372.1 891.0,371.7 892.2,371.2 893.5,370.7 894.7,370.2 896.0,369.7 897.2,369.1 898.5,368.6 899.8,367.9 901.0,367.3 902.3,366.6 903.5,365.9 904.8,365.2 906.0,364.4 907.3,363.6 908.5,362.7 909.8,361.8 911.0,360.9 912.3,359.9 913.5,358.8 914.8,357.7 916.1,356.5 917.3,355.3 918.6,354.0 919.8,352.7 921.1,351.3 922.3,349.8 923.6,348.2 924.8,346.6 926.1,344.9 927.3,343.1 928.6,341.2 929.8,339.3 931.1,337.3 932.4,335.1 933.6,332.9 934.9,330.6 936.1,328.3 937.4,325.8 938.6,323.2 939.9,320.5 941.1,317.8 942.4,314.9 943.6,312.0 944.9,308.9 946.1,305.8 947.4,302.6 948.7,299.3 949.9,295.9 951.2,292.4 952.4,288.9 953.7,285.2 954.9,281.6 956.2,277.9 957.4,274.1 958.7,270.3 959.9,266.5 961.2,262.7 962.4,258.9 963.7,255.1 965.0,251.4 966.2,247.8 967.5,244.2 968.7,240.7 970.0,237.4 971.2,234.3 972.5,231.3 973.7,228.5 975.0,226.0 976.2,223.8 977.5,221.8 978.7,220.1 980.0,218.8 981.3,217.8 982.5,217.1 983.8,216.8 985.0,216.9 986.3,217.3 987.5,218.0 988.8,219.1 990.0,220.6 991.3,222.3 992.5,224.4 993.8,226.7 995.0,229.3 996.3,232.0 997.6,235.0 998.8,238.2 1000.1,241.5 1001.3,244.9 1002.6,248.4 1003.8,252.0 1005.1,255.7 1006.3,259.4 1007.6,263.1 1008.8,266.8 1010.1,270.5 1011.3,274.2 1012.6,277.8 1013.9,281.4 1015.1,285.0 1016.4,288.5 1017.6,291.9 1018.9,295.2 1020.1,298.5 1021.4,301.7 1022.6,304.7 1023.9,307.7 1025.1,310.7 1026.4,313.5 1027.6,316.2 1028.9,318.8 1030.2,321.4 1031.4,323.8 1032.7,326.2 1033.9,328.4 1035.2,330.6 1036.4,332.7 1037.7,334.7 1038.9,336.6 1040.2,338.5 1041.4,340.2 1042.7,341.9 1043.9,343.5 1045.2,345.0 1046.5,346.5 1047.7,347.9 1049.0,349.2 1050.2,350.5 1051.5,351.7 1052.7,352.8 1054.0,353.9 1055.2,354.9 1056.5,355.9 1057.7,356.8 1059.0,357.7 1060.2,358.6 1061.5,359.4 1062.8,360.1 1064.0,360.9 1065.3,361.5 1066.5,362.2 1067.8,362.8 1069.0,363.4 1070.3,364.0 1071.5,364.5 1072.8,365.0 1074.0,365.5 1075.3,366.0 1076.5,366.4 1077.8,366.9 1079.1,367.3 1080.3,367.7 1081.6,368.0 1082.8,368.4 1084.1,368.7 1085.3,369.1 1086.6,369.4 1087.8,369.7 1089.1,370.0 1090.3,370.3 1091.6,370.5 1092.8,370.8 1094.1,371.1 1095.4,371.3 1096.6,371.5 1097.9,371.8 1099.1,372.0 1100.4,372.2 1101.6,372.4 1102.9,372.6 1104.1,372.8 1105.4,373.0 1106.6,373.2 1107.9,373.4 1109.2,373.5 1110.4,373.7 1111.7,373.9 1112.9,374.0 1114.2,374.2 1115.4,374.3 1116.7,374.5 1117.9,374.6 1119.2,374.8 1120.4,374.9 1121.7,375.0 1122.9,375.2 1124.2,375.3 1125.5,375.4 1126.7,375.5 1128.0,375.6 1129.2,375.8 1130.5,375.9 1131.7,376.0 1133.0,376.1 1134.2,376.2 1135.5,376.3 1136.7,376.4 1138.0,376.5 1139.2,376.6 1140.5,376.7 1141.8,376.8 1143.0,376.8 1144.3,376.9 1145.5,377.0 1146.8,377.1 1148.0,377.2 1149.3,377.3 1150.5,377.3 1151.8,377.4 1153.0,377.5 1154.3,377.6 1155.5,377.6 1156.8,377.7 1158.1,377.8 1159.3,377.8 1160.6,377.9 1161.8,378.0 1163.1,378.0 1164.3,378.1 1165.6,378.2 1166.8,378.2 1168.1,378.3 1169.3,378.3 1170.6,378.4 1171.8,378.4 1173.1,378.5 1174.4,378.6 1175.6,378.6 1176.9,378.7 1178.1,378.7 1179.4,378.8 1180.6,378.8 1181.9,378.9 1183.1,378.9 1184.4,378.9 1185.6,379.0 1186.9,379.0 1188.1,379.1 1189.4,379.1 1190.7,379.2 1191.9,379.2 1193.2,379.2 1194.4,379.3 1195.7,379.3 1196.9,379.4 1198.2,379.4 1199.4,379.4 1200.7,379.5 1201.9,379.5 1203.2,379.5 1204.4,379.6 1205.7,379.6 1207.0,379.6 1208.2,379.7 1209.5,379.7 1210.7,379.7 1212.0,379.8 1213.2,379.8 1214.5,379.8 1215.7,379.9 1217.0,379.9 1218.2,379.9 1219.5,380.0 1220.7,380.0 1222.0,380.0" fill="none" stroke="#7d7d22" stroke-width="3.2" stroke-linejoin="round" stroke-linecap="round"/>
<path d="M720.10 19.30H1223.60M720.10 402.80H1223.60" stroke="#000" stroke-width="2.8" fill="none"/>
<path d="M721.70 17.90V404.20M1222.00 17.90V404.20" stroke="#000" stroke-width="3.2" fill="none"/>
<line x1="721.7" y1="402.8" x2="721.7" y2="410.8" stroke="#000" stroke-width="2.5" stroke-linecap="butt"/>
<line x1="771.7" y1="402.8" x2="771.7" y2="407.8" stroke="#000" stroke-width="2.5" stroke-linecap="butt"/>
<line x1="821.8" y1="402.8" x2="821.8" y2="410.8" stroke="#000" stroke-width="2.5" stroke-linecap="butt"/>
<line x1="871.8" y1="402.8" x2="871.8" y2="407.8" stroke="#000" stroke-width="2.5" stroke-linecap="butt"/>
<line x1="921.8" y1="402.8" x2="921.8" y2="410.8" stroke="#000" stroke-width="2.5" stroke-linecap="butt"/>
<line x1="971.9" y1="402.8" x2="971.9" y2="407.8" stroke="#000" stroke-width="2.5" stroke-linecap="butt"/>
<line x1="1021.9" y1="402.8" x2="1021.9" y2="410.8" stroke="#000" stroke-width="2.5" stroke-linecap="butt"/>
<line x1="1071.9" y1="402.8" x2="1071.9" y2="407.8" stroke="#000" stroke-width="2.5" stroke-linecap="butt"/>
<line x1="1121.9" y1="402.8" x2="1121.9" y2="410.8" stroke="#000" stroke-width="2.5" stroke-linecap="butt"/>
<line x1="1172.0" y1="402.8" x2="1172.0" y2="407.8" stroke="#000" stroke-width="2.5" stroke-linecap="butt"/>
<line x1="1222.0" y1="402.8" x2="1222.0" y2="410.8" stroke="#000" stroke-width="2.5" stroke-linecap="butt"/>
<text x="696.33" y="440.20" font-size="30.5">280</text>
<text x="796.38" y="440.20" font-size="30.5">282</text>
<text x="895.95" y="440.20" font-size="30.5">284</text>
<text x="996.51" y="440.20" font-size="30.5">286</text>
<text x="1096.44" y="440.20" font-size="30.5">288</text>
<text x="1196.62" y="440.20" font-size="30.5">290</text>
<line x1="1037.5" y1="45.8" x2="1080.5" y2="45.8" stroke="#1414f5" stroke-width="3.6" stroke-linecap="round"/>
<text x="1088.35" y="52.80" font-size="30">O-C=O</text>
<line x1="1037.5" y1="83.5" x2="1080.5" y2="83.5" stroke="#dd33f5" stroke-width="3.6" stroke-linecap="round"/>
<text x="1088.35" y="90.40" font-size="30">C-C/C=C</text>
<line x1="1037.5" y1="120.8" x2="1080.5" y2="120.8" stroke="#7d7d22" stroke-width="3.6" stroke-linecap="round"/>
<text x="1088.35" y="127.20" font-size="30">C-O/C-N</text>
<text transform="translate(624.29,32.70) scale(0.9486,1)" font-size="43">B</text>
<text transform="translate(777.70,498.20) scale(0.9817,1)" font-size="41.5">Binding Energy (eV)</text>
<text transform="translate(683.30,298.16) rotate(-90) scale(0.9475,1)" font-size="42.8">Counts</text>
<polyline points="77.6,932.8 79.6,931.6 81.6,929.5 83.6,928.8 85.6,928.0 87.7,927.6 89.8,928.1 91.8,928.6 93.9,927.8 96.0,929.0 98.0,929.3 100.0,928.4 102.0,929.4 104.0,929.3 106.0,929.3 108.0,929.6 110.4,930.8 112.8,932.0 115.1,931.5 117.4,931.2 119.7,930.4 122.0,931.0 124.0,930.9 126.0,931.7 128.0,931.6 130.0,931.2 132.0,930.4 134.0,930.5 136.0,929.5 138.0,930.2 140.0,929.2 142.0,928.9 144.0,928.5 146.0,928.3 148.0,928.0 150.0,927.9 152.0,928.2 154.0,927.8 156.0,928.2 158.0,928.5 160.0,928.9 162.0,927.1 164.0,926.4 165.6,929.6 167.7,930.1 169.9,931.1 172.0,931.5 172.0,930.0 173.6,929.2 175.3,929.5 176.9,929.9 178.5,929.5 180.1,929.4 181.8,929.9 183.4,929.0 185.0,929.2 186.7,928.9 188.3,929.6 189.9,928.1 191.6,928.6 193.2,928.5 194.8,928.9 196.4,928.8 198.1,929.0 199.7,927.7 201.3,928.5 203.0,927.9 204.6,927.6 206.2,928.0 207.9,927.2 209.5,926.6 211.1,927.0 212.7,926.4 214.4,926.5 216.0,926.6 217.6,926.3 219.3,926.4 220.9,925.3 222.5,924.3 224.1,924.1 225.8,923.5 227.4,922.7 229.0,922.6 230.7,921.3 232.3,919.7 233.9,919.6 235.6,918.0 237.2,916.7 238.8,914.9 240.4,913.2 242.1,910.9 243.7,908.9 245.3,906.0 247.0,903.0 248.6,899.7 250.2,895.3 251.9,891.9 253.5,887.6 255.1,883.1 256.7,877.5 258.4,873.3 260.0,867.1 261.6,860.5 263.3,854.0 264.9,848.0 266.5,841.3 268.2,834.1 269.8,827.3 271.4,819.9 273.0,813.2 274.7,805.6 276.3,798.9 277.9,792.6 279.6,786.8 281.2,779.4 282.8,774.2 284.4,769.1 286.1,765.6 287.7,761.3 289.3,758.9 291.0,757.2 292.6,755.9 294.2,755.7 295.9,756.5 297.5,757.1 299.1,759.3 300.7,762.2 302.4,765.4 304.0,768.6 305.6,771.5 307.3,775.7 308.9,780.0 310.5,783.5 312.2,786.7 313.8,789.5 315.4,792.9 317.0,794.7 318.7,796.3 320.3,797.6 321.9,799.1 323.6,798.4 325.2,797.9 326.8,795.6 328.4,793.8 330.1,790.0 331.7,786.3 333.3,782.6 335.0,776.5 336.6,769.9 338.2,763.2 339.9,756.0 341.5,748.4 343.1,739.3 344.7,730.0 346.4,721.4 348.0,712.1 349.6,702.6 351.3,693.4 352.9,683.4 354.5,674.1 356.2,664.1 357.8,655.9 359.4,647.8 361.0,639.2 362.7,631.4 364.3,624.5 365.9,619.1 367.6,612.7 369.2,608.6 370.8,604.9 372.5,600.9 374.1,598.4 375.7,599.7 377.3,600.8 379.0,602.4 380.6,604.7 382.2,607.5 383.9,611.8 385.5,616.8 387.1,621.4 388.7,627.8 390.4,634.8 392.0,641.3 393.6,649.6 395.3,657.3 396.9,666.8 398.5,676.2 400.2,685.5 401.8,695.3 403.4,706.5 405.0,717.2 406.7,728.2 408.3,739.8 409.9,749.6 411.6,761.3 413.2,771.3 414.8,782.2 416.5,791.6 418.1,800.9 419.7,810.4 421.3,819.4 423.0,827.5 424.6,835.6 426.2,842.6 427.9,849.0 429.5,856.7 431.1,862.7 432.7,868.1 434.4,873.3 436.0,878.5 437.6,882.2 439.3,886.1 440.9,890.0 442.5,893.8 444.2,895.7 445.8,899.4 447.4,901.1 449.0,903.0 450.7,905.8 452.3,907.0 453.9,908.0 455.6,909.7 457.2,911.3 458.8,912.5 460.5,912.7 462.1,913.8 463.7,914.6 465.3,914.6 467.0,915.5 468.6,915.8 470.2,916.0 471.9,916.4 473.5,916.9 475.1,917.1 476.8,917.1 478.4,917.3 480.0,918.1 481.6,917.9 483.3,918.3 484.9,918.5 486.5,918.4 488.2,919.1 489.8,918.0 491.4,918.7 493.0,918.3 494.7,919.3 496.3,919.2 497.9,917.8 499.6,918.3 501.2,919.0 502.8,919.1 504.5,919.1 506.1,918.8 507.7,919.0 509.3,919.2 511.0,918.9 512.6,919.4 514.2,918.1 515.9,919.3 517.5,918.6 519.1,919.5 520.8,919.0 522.4,918.8 524.0,919.3 525.6,918.8 527.3,918.8 528.9,918.6 529.6,920.4 531.7,919.8 533.9,919.4 536.0,918.5 538.0,918.4 540.0,917.2 542.0,917.1 544.0,916.0 546.0,916.4 548.0,916.7 550.0,917.4 552.0,917.5 554.0,917.8 556.0,916.8 558.0,916.6 560.0,916.5 562.0,916.7 564.0,917.0 566.0,916.8 568.0,917.5 570.1,917.8 572.2,916.9 574.3,917.2 576.4,916.8" fill="none" stroke="#000" stroke-width="3.0" stroke-linejoin="round" stroke-linecap="round"/>
<polyline points="172.0,929.7 173.2,929.7 174.4,929.7 175.6,929.6 176.8,929.6 178.0,929.5 179.2,929.5 180.4,929.4 181.5,929.4 182.7,929.3 183.9,929.3 185.1,929.2 186.3,929.2 187.5,929.1 188.7,929.1 189.9,929.0 191.1,928.9 192.3,928.9 193.5,928.8 194.7,928.7 195.9,928.7 197.1,928.6 198.3,928.5 199.5,928.4 200.6,928.4 201.8,928.3 203.0,928.2 204.2,928.1 205.4,928.0 206.6,927.9 207.8,927.8 209.0,927.6 210.2,927.5 211.4,927.4 212.6,927.2 213.8,927.1 215.0,926.9 216.2,926.7 217.4,926.5 218.6,926.3 219.7,926.1 220.9,925.8 222.1,925.5 223.3,925.2 224.5,924.9 225.7,924.5 226.9,924.1 228.1,923.6 229.3,923.1 230.5,922.6 231.7,922.0 232.9,921.3 234.1,920.5 235.3,919.7 236.5,918.8 237.7,917.8 238.8,916.7 240.0,915.5 241.2,914.2 242.4,912.8 243.6,911.2 244.8,909.5 246.0,907.7 247.2,905.7 248.4,903.5 249.6,901.2 250.8,898.7 252.0,896.0 253.2,893.2 254.4,890.2 255.6,886.9 256.7,883.5 257.9,879.9 259.1,876.1 260.3,872.2 261.5,868.0 262.7,863.7 263.9,859.2 265.1,854.5 266.3,849.8 267.5,844.9 268.7,839.8 269.9,834.7 271.1,829.5 272.3,824.3 273.5,819.0 274.7,813.8 275.8,808.6 277.0,803.4 278.2,798.4 279.4,793.4 280.6,788.7 281.8,784.1 283.0,779.8 284.2,775.7 285.4,771.9 286.6,768.5 287.8,765.5 289.0,762.8 290.2,760.6 291.4,758.8 292.6,757.4 293.8,756.5 294.9,756.1 296.1,756.1 297.3,756.5 298.5,757.4 299.7,758.6 300.9,760.1 302.1,762.0 303.3,764.2 304.5,766.5 305.7,769.0 306.9,771.7 308.1,774.4 309.3,777.2 310.5,780.0 311.7,782.7 312.9,785.3 314.0,787.8 315.2,790.1 316.4,792.2 317.6,794.0 318.8,795.6 320.0,796.8 321.2,797.8 322.4,798.3 323.6,798.5 324.8,798.3 326.0,797.7 327.2,796.6 328.4,795.2 329.6,793.3 330.8,791.0 331.9,788.2 333.1,785.0 334.3,781.4 335.5,777.4 336.7,773.0 337.9,768.2 339.1,763.1 340.3,757.6 341.5,751.8 342.7,745.7 343.9,739.3 345.1,732.8 346.3,726.0 347.5,719.1 348.7,712.0 349.9,704.9 351.0,697.7 352.2,690.5 353.4,683.3 354.6,676.2 355.8,669.2 357.0,662.3 358.2,655.6 359.4,649.2 360.6,643.0 361.8,637.1 363.0,631.5 364.2,626.3 365.4,621.5 366.6,617.1 367.8,613.2 369.0,609.8 370.1,606.9 371.3,604.5 372.5,602.6 373.7,601.3 374.9,600.6 376.1,600.4 377.3,600.8 378.5,601.8 379.7,603.4 380.9,605.5 382.1,608.1 383.3,611.3 384.5,615.0 385.7,619.2 386.9,623.9 388.0,629.0 389.2,634.6 390.4,640.5 391.6,646.8 392.8,653.4 394.0,660.3 395.2,667.4 396.4,674.8 397.6,682.4 398.8,690.1 400.0,698.0 401.2,706.0 402.4,714.0 403.6,722.1 404.8,730.1 406.0,738.2 407.1,746.2 408.3,754.1 409.5,762.0 410.7,769.7 411.9,777.2 413.1,784.7 414.3,791.9 415.5,798.9 416.7,805.8 417.9,812.4 419.1,818.8 420.3,825.0 421.5,830.9 422.7,836.6 423.9,842.1 425.1,847.3 426.2,852.2 427.4,856.9 428.6,861.4 429.8,865.6 431.0,869.6 432.2,873.4 433.4,876.9 434.6,880.2 435.8,883.3 437.0,886.2 438.2,888.9 439.4,891.4 440.6,893.8 441.8,895.9 443.0,897.9 444.2,899.8 445.3,901.5 446.5,903.1 447.7,904.5 448.9,905.8 450.1,907.0 451.3,908.1 452.5,909.1 453.7,910.1 454.9,910.9 456.1,911.7 457.3,912.4 458.5,913.0 459.7,913.5 460.9,914.1 462.1,914.5 463.2,914.9 464.4,915.3 465.6,915.6 466.8,915.9 468.0,916.2 469.2,916.5 470.4,916.7 471.6,916.9 472.8,917.1 474.0,917.2 475.2,917.4 476.4,917.5 477.6,917.6 478.8,917.7 480.0,917.8 481.2,917.9 482.3,918.0 483.5,918.1 484.7,918.2 485.9,918.2 487.1,918.3 488.3,918.3 489.5,918.4 490.7,918.4 491.9,918.5 493.1,918.5 494.3,918.6 495.5,918.6 496.7,918.6 497.9,918.7 499.1,918.7 500.3,918.7 501.4,918.8 502.6,918.8 503.8,918.8 505.0,918.9 506.2,918.9 507.4,918.9 508.6,918.9 509.8,919.0 511.0,919.0 512.2,919.0 513.4,919.0 514.6,919.0 515.8,919.1 517.0,919.1 518.2,919.1 519.4,919.1 520.5,919.1 521.7,919.2 522.9,919.2 524.1,919.2 525.3,919.2 526.5,919.2 527.7,919.2 528.9,919.3" fill="none" stroke="#dc2a0c" stroke-width="3.4" stroke-linejoin="round" stroke-linecap="round"/>
<polyline points="172.0,932.5 173.2,932.5 174.4,932.5 175.6,932.5 176.8,932.5 178.0,932.5 179.2,932.5 180.4,932.5 181.5,932.5 182.7,932.5 183.9,932.5 185.1,932.5 186.3,932.5 187.5,932.5 188.7,932.5 189.9,932.5 191.1,932.5 192.3,932.5 193.5,932.5 194.7,932.5 195.9,932.5 197.1,932.5 198.3,932.5 199.5,932.5 200.6,932.5 201.8,932.5 203.0,932.5 204.2,932.5 205.4,932.5 206.6,932.5 207.8,932.5 209.0,932.5 210.2,932.5 211.4,932.5 212.6,932.5 213.8,932.5 215.0,932.5 216.2,932.5 217.4,932.5 218.6,932.5 219.7,932.5 220.9,932.5 222.1,932.5 223.3,932.5 224.5,932.5 225.7,932.5 226.9,932.5 228.1,932.5 229.3,932.5 230.5,932.5 231.7,932.5 232.9,932.5 234.1,932.5 235.3,932.5 236.5,932.5 237.7,932.5 238.8,932.5 240.0,932.5 241.2,932.5 242.4,932.5 243.6,932.5 244.8,932.5 246.0,932.5 247.2,932.5 248.4,932.5 249.6,932.5 250.8,932.5 252.0,932.5 253.2,932.5 254.4,932.5 255.6,932.5 256.7,932.5 257.9,932.5 259.1,932.5 260.3,932.5 261.5,932.5 262.7,932.5 263.9,932.5 265.1,932.5 266.3,932.5 267.5,932.4 268.7,932.4 269.9,932.4 271.1,932.4 272.3,932.4 273.5,932.4 274.7,932.4 275.8,932.4 277.0,932.4 278.2,932.4 279.4,932.4 280.6,932.4 281.8,932.3 283.0,932.3 284.2,932.3 285.4,932.3 286.6,932.3 287.8,932.3 289.0,932.2 290.2,932.2 291.4,932.2 292.6,932.2 293.8,932.1 294.9,932.1 296.1,932.1 297.3,932.1 298.5,932.0 299.7,932.0 300.9,932.0 302.1,931.9 303.3,931.9 304.5,931.8 305.7,931.8 306.9,931.7 308.1,931.7 309.3,931.6 310.5,931.6 311.7,931.5 312.9,931.5 314.0,931.4 315.2,931.3 316.4,931.2 317.6,931.2 318.8,931.1 320.0,931.0 321.2,930.9 322.4,930.8 323.6,930.8 324.8,930.7 326.0,930.6 327.2,930.5 328.4,930.4 329.6,930.3 330.8,930.2 331.9,930.0 333.1,929.9 334.3,929.8 335.5,929.7 336.7,929.6 337.9,929.4 339.1,929.3 340.3,929.2 341.5,929.0 342.7,928.9 343.9,928.8 345.1,928.6 346.3,928.5 347.5,928.3 348.7,928.2 349.9,928.0 351.0,927.9 352.2,927.7 353.4,927.6 354.6,927.4 355.8,927.3 357.0,927.1 358.2,927.0 359.4,926.8 360.6,926.7 361.8,926.5 363.0,926.4 364.2,926.2 365.4,926.1 366.6,925.9 367.8,925.8 369.0,925.6 370.1,925.5 371.3,925.3 372.5,925.2 373.7,925.0 374.9,924.9 376.1,924.7 377.3,924.6 378.5,924.5 379.7,924.3 380.9,924.2 382.1,924.1 383.3,923.9 384.5,923.8 385.7,923.7 386.9,923.6 388.0,923.5 389.2,923.3 390.4,923.2 391.6,923.1 392.8,923.0 394.0,922.9 395.2,922.8 396.4,922.7 397.6,922.7 398.8,922.6 400.0,922.5 401.2,922.4 402.4,922.3 403.6,922.3 404.8,922.2 406.0,922.1 407.1,922.0 408.3,922.0 409.5,921.9 410.7,921.9 411.9,921.8 413.1,921.8 414.3,921.7 415.5,921.7 416.7,921.6 417.9,921.6 419.1,921.5 420.3,921.5 421.5,921.5 422.7,921.4 423.9,921.4 425.1,921.4 426.2,921.4 427.4,921.3 428.6,921.3 429.8,921.3 431.0,921.3 432.2,921.2 433.4,921.2 434.6,921.2 435.8,921.2 437.0,921.2 438.2,921.2 439.4,921.1 440.6,921.1 441.8,921.1 443.0,921.1 444.2,921.1 445.3,921.1 446.5,921.1 447.7,921.1 448.9,921.1 450.1,921.1 451.3,921.1 452.5,921.1 453.7,921.0 454.9,921.0 456.1,921.0 457.3,921.0 458.5,921.0 459.7,921.0 460.9,921.0 462.1,921.0 463.2,921.0 464.4,921.0 465.6,921.0 466.8,921.0 468.0,921.0 469.2,921.0 470.4,921.0 471.6,921.0 472.8,921.0 474.0,921.0 475.2,921.0 476.4,921.0 477.6,921.0 478.8,921.0 480.0,921.0 481.2,921.0 482.3,921.0 483.5,921.0 484.7,921.0 485.9,921.0 487.1,921.0 488.3,921.0 489.5,921.0 490.7,921.0 491.9,921.0 493.1,921.0 494.3,921.0 495.5,921.0 496.7,921.0 497.9,921.0 499.1,921.0 500.3,921.0 501.4,921.0 502.6,921.0 503.8,921.0 505.0,921.0 506.2,921.0 507.4,921.0 508.6,921.0 509.8,921.0 511.0,921.0 512.2,921.0 513.4,921.0 514.6,921.0 515.8,921.0 517.0,921.0 518.2,921.0 519.4,921.0 520.5,921.0 521.7,921.0 522.9,921.0 524.1,921.0 525.3,921.0 526.5,921.0 527.7,921.0 528.9,921.0" fill="none" stroke="#1414f5" stroke-width="3.2" stroke-linejoin="round" stroke-linecap="round"/>
<polyline points="172.0,931.6 173.2,931.6 174.4,931.6 175.6,931.6 176.8,931.6 178.0,931.6 179.2,931.5 180.4,931.5 181.5,931.5 182.7,931.5 183.9,931.5 185.1,931.5 186.3,931.5 187.5,931.5 188.7,931.5 189.9,931.5 191.1,931.5 192.3,931.5 193.5,931.5 194.7,931.5 195.9,931.5 197.1,931.5 198.3,931.5 199.5,931.4 200.6,931.4 201.8,931.4 203.0,931.4 204.2,931.4 205.4,931.4 206.6,931.4 207.8,931.4 209.0,931.4 210.2,931.4 211.4,931.4 212.6,931.4 213.8,931.3 215.0,931.3 216.2,931.3 217.4,931.3 218.6,931.3 219.7,931.3 220.9,931.3 222.1,931.3 223.3,931.3 224.5,931.3 225.7,931.2 226.9,931.2 228.1,931.2 229.3,931.2 230.5,931.2 231.7,931.2 232.9,931.2 234.1,931.2 235.3,931.1 236.5,931.1 237.7,931.1 238.8,931.1 240.0,931.1 241.2,931.1 242.4,931.0 243.6,931.0 244.8,931.0 246.0,931.0 247.2,931.0 248.4,930.9 249.6,930.9 250.8,930.9 252.0,930.9 253.2,930.9 254.4,930.8 255.6,930.8 256.7,930.8 257.9,930.7 259.1,930.7 260.3,930.7 261.5,930.6 262.7,930.6 263.9,930.5 265.1,930.5 266.3,930.4 267.5,930.4 268.7,930.3 269.9,930.2 271.1,930.1 272.3,930.0 273.5,929.9 274.7,929.8 275.8,929.7 277.0,929.6 278.2,929.4 279.4,929.2 280.6,929.0 281.8,928.8 283.0,928.6 284.2,928.3 285.4,928.0 286.6,927.7 287.8,927.3 289.0,926.9 290.2,926.5 291.4,926.0 292.6,925.5 293.8,924.8 294.9,924.2 296.1,923.4 297.3,922.6 298.5,921.7 299.7,920.8 300.9,919.7 302.1,918.5 303.3,917.2 304.5,915.8 305.7,914.3 306.9,912.6 308.1,910.8 309.3,908.8 310.5,906.7 311.7,904.4 312.9,901.9 314.0,899.3 315.2,896.4 316.4,893.4 317.6,890.1 318.8,886.6 320.0,882.9 321.2,879.0 322.4,874.8 323.6,870.4 324.8,865.7 326.0,860.8 327.2,855.6 328.4,850.2 329.6,844.5 330.8,838.6 331.9,832.4 333.1,826.0 334.3,819.4 335.5,812.6 336.7,805.5 337.9,798.2 339.1,790.7 340.3,783.1 341.5,775.3 342.7,767.4 343.9,759.4 345.1,751.2 346.3,743.0 347.5,734.8 348.7,726.6 349.9,718.3 351.0,710.1 352.2,702.0 353.4,694.0 354.6,686.2 355.8,678.5 357.0,671.0 358.2,663.8 359.4,656.8 360.6,650.2 361.8,643.9 363.0,637.9 364.2,632.4 365.4,627.3 366.6,622.6 367.8,618.5 369.0,614.8 370.1,611.7 371.3,609.1 372.5,607.1 373.7,605.6 374.9,604.7 376.1,604.4 377.3,604.7 378.5,605.6 379.7,607.0 380.9,609.0 382.1,611.6 383.3,614.7 384.5,618.3 385.7,622.4 386.9,627.0 388.0,632.0 389.2,637.5 390.4,643.3 391.6,649.6 392.8,656.1 394.0,662.9 395.2,670.0 396.4,677.4 397.6,684.9 398.8,692.6 400.0,700.4 401.2,708.3 402.4,716.3 403.6,724.3 404.8,732.3 406.0,740.4 407.1,748.3 408.3,756.2 409.5,764.0 410.7,771.7 411.9,779.2 413.1,786.6 414.3,793.8 415.5,800.8 416.7,807.6 417.9,814.2 419.1,820.6 420.3,826.7 421.5,832.6 422.7,838.3 423.9,843.7 425.1,848.9 426.2,853.8 427.4,858.5 428.6,862.9 429.8,867.1 431.0,871.1 432.2,874.8 433.4,878.3 434.6,881.6 435.8,884.7 437.0,887.6 438.2,890.3 439.4,892.7 440.6,895.1 441.8,897.2 443.0,899.2 444.2,901.0 445.3,902.7 446.5,904.3 447.7,905.7 448.9,907.0 450.1,908.2 451.3,909.3 452.5,910.3 453.7,911.2 454.9,912.0 456.1,912.7 457.3,913.4 458.5,914.0 459.7,914.6 460.9,915.1 462.1,915.5 463.2,915.9 464.4,916.3 465.6,916.6 466.8,916.9 468.0,917.1 469.2,917.4 470.4,917.6 471.6,917.8 472.8,917.9 474.0,918.1 475.2,918.2 476.4,918.4 477.6,918.5 478.8,918.6 480.0,918.7 481.2,918.7 482.3,918.8 483.5,918.9 484.7,918.9 485.9,919.0 487.1,919.0 488.3,919.1 489.5,919.1 490.7,919.2 491.9,919.2 493.1,919.2 494.3,919.3 495.5,919.3 496.7,919.3 497.9,919.4 499.1,919.4 500.3,919.4 501.4,919.4 502.6,919.4 503.8,919.5 505.0,919.5 506.2,919.5 507.4,919.5 508.6,919.5 509.8,919.6 511.0,919.6 512.2,919.6 513.4,919.6 514.6,919.6 515.8,919.6 517.0,919.6 518.2,919.7 519.4,919.7 520.5,919.7 521.7,919.7 522.9,919.7 524.1,919.7 525.3,919.7 526.5,919.7 527.7,919.8 528.9,919.8" fill="none" stroke="#417a7a" stroke-width="3.2" stroke-linejoin="round" stroke-linecap="round"/>
<polyline points="172.0,930.2 173.2,930.1 174.4,930.1 175.6,930.1 176.8,930.0 178.0,930.0 179.2,929.9 180.4,929.9 181.5,929.8 182.7,929.8 183.9,929.8 185.1,929.7 186.3,929.7 187.5,929.6 188.7,929.6 189.9,929.5 191.1,929.5 192.3,929.4 193.5,929.3 194.7,929.3 195.9,929.2 197.1,929.1 198.3,929.1 199.5,929.0 200.6,928.9 201.8,928.8 203.0,928.8 204.2,928.7 205.4,928.6 206.6,928.5 207.8,928.4 209.0,928.3 210.2,928.1 211.4,928.0 212.6,927.9 213.8,927.7 215.0,927.6 216.2,927.4 217.4,927.2 218.6,927.0 219.7,926.8 220.9,926.5 222.1,926.3 223.3,926.0 224.5,925.6 225.7,925.3 226.9,924.9 228.1,924.4 229.3,923.9 230.5,923.4 231.7,922.8 232.9,922.1 234.1,921.4 235.3,920.6 236.5,919.7 237.7,918.7 238.8,917.6 240.0,916.4 241.2,915.1 242.4,913.7 243.6,912.2 244.8,910.5 246.0,908.7 247.2,906.7 248.4,904.6 249.6,902.3 250.8,899.8 252.0,897.2 253.2,894.3 254.4,891.3 255.6,888.1 256.7,884.7 257.9,881.2 259.1,877.4 260.3,873.5 261.5,869.4 262.7,865.1 263.9,860.6 265.1,856.0 266.3,851.3 267.5,846.4 268.7,841.5 269.9,836.4 271.1,831.3 272.3,826.2 273.5,821.0 274.7,815.9 275.8,810.8 277.0,805.8 278.2,800.8 279.4,796.1 280.6,791.5 281.8,787.1 283.0,783.0 284.2,779.2 285.4,775.7 286.6,772.6 287.8,769.9 289.0,767.6 290.2,765.8 291.4,764.5 292.6,763.6 293.8,763.3 294.9,763.5 296.1,764.2 297.3,765.5 298.5,767.2 299.7,769.3 300.9,771.9 302.1,774.9 303.3,778.3 304.5,782.0 305.7,786.1 306.9,790.3 308.1,794.8 309.3,799.5 310.5,804.4 311.7,809.3 312.9,814.3 314.0,819.4 315.2,824.5 316.4,829.6 317.6,834.6 318.8,839.6 320.0,844.4 321.2,849.2 322.4,853.9 323.6,858.4 324.8,862.8 326.0,867.0 327.2,871.0 328.4,874.9 329.6,878.5 330.8,882.0 331.9,885.3 333.1,888.4 334.3,891.3 335.5,894.0 336.7,896.6 337.9,898.9 339.1,901.1 340.3,903.1 341.5,905.0 342.7,906.7 343.9,908.3 345.1,909.7 346.3,911.0 347.5,912.1 348.7,913.2 349.9,914.1 351.0,915.0 352.2,915.7 353.4,916.4 354.6,917.0 355.8,917.5 357.0,917.9 358.2,918.3 359.4,918.7 360.6,919.0 361.8,919.2 363.0,919.4 364.2,919.6 365.4,919.8 366.6,919.9 367.8,920.0 369.0,920.1 370.1,920.1 371.3,920.2 372.5,920.2 373.7,920.2 374.9,920.2 376.1,920.2 377.3,920.2 378.5,920.2 379.7,920.2 380.9,920.2 382.1,920.1 383.3,920.1 384.5,920.1 385.7,920.0 386.9,920.0 388.0,920.0 389.2,919.9 390.4,919.9 391.6,919.8 392.8,919.8 394.0,919.8 395.2,919.7 396.4,919.7 397.6,919.7 398.8,919.6 400.0,919.6 401.2,919.6 402.4,919.5 403.6,919.5 404.8,919.5 406.0,919.5 407.1,919.4 408.3,919.4 409.5,919.4 410.7,919.4 411.9,919.4 413.1,919.3 414.3,919.3 415.5,919.3 416.7,919.3 417.9,919.3 419.1,919.3 420.3,919.3 421.5,919.3 422.7,919.3 423.9,919.3 425.1,919.3 426.2,919.3 427.4,919.3 428.6,919.3 429.8,919.3 431.0,919.3 432.2,919.3 433.4,919.3 434.6,919.3 435.8,919.3 437.0,919.3 438.2,919.3 439.4,919.3 440.6,919.3 441.8,919.4 443.0,919.4 444.2,919.4 445.3,919.4 446.5,919.4 447.7,919.4 448.9,919.4 450.1,919.4 451.3,919.4 452.5,919.4 453.7,919.5 454.9,919.5 456.1,919.5 457.3,919.5 458.5,919.5 459.7,919.5 460.9,919.5 462.1,919.5 463.2,919.5 464.4,919.6 465.6,919.6 466.8,919.6 468.0,919.6 469.2,919.6 470.4,919.6 471.6,919.6 472.8,919.6 474.0,919.6 475.2,919.7 476.4,919.7 477.6,919.7 478.8,919.7 480.0,919.7 481.2,919.7 482.3,919.7 483.5,919.7 484.7,919.7 485.9,919.7 487.1,919.7 488.3,919.8 489.5,919.8 490.7,919.8 491.9,919.8 493.1,919.8 494.3,919.8 495.5,919.8 496.7,919.8 497.9,919.8 499.1,919.8 500.3,919.8 501.4,919.8 502.6,919.9 503.8,919.9 505.0,919.9 506.2,919.9 507.4,919.9 508.6,919.9 509.8,919.9 511.0,919.9 512.2,919.9 513.4,919.9 514.6,919.9 515.8,919.9 517.0,919.9 518.2,919.9 519.4,919.9 520.5,920.0 521.7,920.0 522.9,920.0 524.1,920.0 525.3,920.0 526.5,920.0 527.7,920.0 528.9,920.0" fill="none" stroke="#dd33f5" stroke-width="3.2" stroke-linejoin="round" stroke-linecap="round"/>
<path d="M75.30 554.40H578.90M75.30 938.60H578.90" stroke="#000" stroke-width="2.8" fill="none"/>
<path d="M76.90 553.00V940.00M577.30 553.00V940.00" stroke="#000" stroke-width="3.2" fill="none"/>
<line x1="76.9" y1="938.6" x2="76.9" y2="947.1" stroke="#000" stroke-width="2.5" stroke-linecap="butt"/>
<line x1="118.6" y1="938.6" x2="118.6" y2="943.6" stroke="#000" stroke-width="2.5" stroke-linecap="butt"/>
<line x1="160.3" y1="938.6" x2="160.3" y2="947.1" stroke="#000" stroke-width="2.5" stroke-linecap="butt"/>
<line x1="202.0" y1="938.6" x2="202.0" y2="943.6" stroke="#000" stroke-width="2.5" stroke-linecap="butt"/>
<line x1="243.7" y1="938.6" x2="243.7" y2="947.1" stroke="#000" stroke-width="2.5" stroke-linecap="butt"/>
<line x1="285.4" y1="938.6" x2="285.4" y2="943.6" stroke="#000" stroke-width="2.5" stroke-linecap="butt"/>
<line x1="327.1" y1="938.6" x2="327.1" y2="947.1" stroke="#000" stroke-width="2.5" stroke-linecap="butt"/>
<line x1="368.8" y1="938.6" x2="368.8" y2="943.6" stroke="#000" stroke-width="2.5" stroke-linecap="butt"/>
<line x1="410.5" y1="938.6" x2="410.5" y2="947.1" stroke="#000" stroke-width="2.5" stroke-linecap="butt"/>
<line x1="452.2" y1="938.6" x2="452.2" y2="943.6" stroke="#000" stroke-width="2.5" stroke-linecap="butt"/>
<line x1="493.9" y1="938.6" x2="493.9" y2="947.1" stroke="#000" stroke-width="2.5" stroke-linecap="butt"/>
<line x1="535.6" y1="938.6" x2="535.6" y2="943.6" stroke="#000" stroke-width="2.5" stroke-linecap="butt"/>
<line x1="577.3" y1="938.6" x2="577.3" y2="947.1" stroke="#000" stroke-width="2.5" stroke-linecap="butt"/>
<text x="51.15" y="976.70" font-size="30.5">394</text>
<text x="135.05" y="976.70" font-size="30.5">396</text>
<text x="218.33" y="976.70" font-size="30.5">398</text>
<text x="301.98" y="976.70" font-size="30.5">400</text>
<text x="385.38" y="976.70" font-size="30.5">402</text>
<text x="468.27" y="976.70" font-size="30.5">404</text>
<text x="552.18" y="976.70" font-size="30.5">406</text>
<line x1="87.5" y1="589.2" x2="131.0" y2="589.2" stroke="#417a7a" stroke-width="3.6" stroke-linecap="round"/>
<text x="139.50" y="595.20" font-size="30.4">Pyrrolic N</text>
<line x1="87.5" y1="626.8" x2="131.0" y2="626.8" stroke="#dd33f5" stroke-width="3.6" stroke-linecap="round"/>
<text x="139.05" y="633.00" font-size="30.4">GraphItic N</text>
<text transform="translate(0.67,556.20) scale(0.9321,1)" font-size="43">C</text>
<text transform="translate(133.09,1034.40) scale(0.9846,1)" font-size="41.5">Binding Energy (eV)</text>
<text transform="translate(39.20,834.88) rotate(-90) scale(0.9586,1)" font-size="42.8">Counts</text>
<polyline points="722.4,922.4 724.5,921.9 726.6,922.4 728.7,922.3 730.8,921.8 732.9,922.9 735.0,921.8 737.0,922.2 739.0,923.2 741.0,923.0 743.0,922.4 745.0,923.0 747.2,922.8 749.4,923.3 751.6,923.2 753.8,923.2 756.0,923.2 758.0,922.9 760.0,922.0 762.0,922.6 764.0,921.4 766.0,922.5 768.0,921.8 770.0,922.0 772.1,921.6 774.3,921.7 776.4,921.9 778.6,921.0 780.7,920.8 782.9,921.0 785.0,921.5 787.2,920.3 789.4,920.7 791.6,921.9 793.8,920.4 796.0,920.8 798.5,921.5 801.0,921.5 801.0,920.2 802.4,920.1 803.8,920.0 805.1,919.9 806.5,919.8 807.9,919.7 809.3,919.6 810.6,919.5 812.0,919.4 813.4,919.2 814.8,919.1 816.1,919.0 817.5,918.9 818.9,918.7 820.3,918.6 821.7,918.4 823.0,918.3 824.4,918.1 825.8,918.0 827.2,917.8 828.5,917.6 829.9,917.4 831.3,917.2 832.7,917.0 834.0,916.8 835.4,916.6 836.8,916.3 838.2,916.1 839.5,915.8 840.9,915.5 842.3,915.2 843.7,914.9 845.1,914.5 846.4,914.1 847.8,913.7 849.2,913.3 850.6,912.8 851.9,912.2 853.3,911.7 854.7,911.0 856.1,910.3 857.4,909.5 858.8,908.6 860.2,907.6 861.6,906.5 863.0,905.3 864.3,903.9 865.7,902.4 867.1,900.7 868.5,898.8 869.8,896.7 871.2,894.3 872.6,891.7 874.0,888.8 875.3,885.6 876.7,882.0 878.1,878.1 879.5,873.9 880.8,856.4 882.2,851.4 883.6,844.9 885.0,838.4 886.4,831.2 887.7,823.0 889.1,814.9 890.5,806.8 891.9,797.5 893.2,787.6 894.6,778.7 896.0,768.6 897.4,756.5 898.7,746.4 900.1,736.3 901.5,724.6 902.9,713.3 904.3,702.1 905.6,691.2 907.0,680.9 908.4,670.8 909.8,661.9 911.1,652.7 912.5,644.8 913.9,637.5 915.3,632.2 916.6,627.2 918.0,624.1 919.4,622.5 920.8,621.4 922.2,621.7 923.5,622.5 924.9,623.8 926.3,625.7 927.7,629.0 929.0,633.6 930.4,637.8 931.8,644.2 933.2,649.7 934.5,655.8 935.9,662.7 937.3,669.6 938.7,677.0 940.0,683.9 941.4,692.5 942.8,699.6 944.2,706.7 945.6,714.9 946.9,721.7 948.3,729.6 949.7,736.8 951.1,743.2 952.4,748.7 953.8,754.9 955.2,761.5 956.6,766.3 957.9,771.3 959.3,776.5 960.7,781.6 962.1,785.4 963.5,789.0 964.8,793.0 966.2,796.8 967.6,799.9 969.0,803.1 970.3,806.9 971.7,809.7 973.1,813.2 974.5,816.3 975.8,820.1 977.2,821.8 978.6,825.0 980.0,827.9 981.3,830.9 982.7,834.0 984.1,836.2 985.5,838.9 986.9,841.3 988.2,844.3 989.6,847.6 991.0,850.1 992.4,852.3 993.7,855.2 995.1,858.0 996.5,860.7 997.9,862.8 999.2,865.4 1000.6,867.1 1002.0,869.8 1003.4,873.1 1004.8,873.8 1006.1,876.7 1007.5,879.0 1008.9,880.8 1010.3,882.5 1011.6,884.6 1013.0,886.4 1014.4,888.1 1015.8,889.0 1017.1,891.2 1018.5,892.4 1019.9,893.8 1021.3,895.5 1022.7,896.8 1024.0,898.1 1025.4,898.6 1026.8,900.2 1028.2,901.2 1029.5,902.1 1030.9,903.0 1032.3,903.2 1033.7,903.9 1035.0,905.0 1036.4,904.7 1037.8,905.9 1039.2,906.1 1040.5,906.7 1041.9,906.6 1043.3,907.3 1044.7,908.1 1046.1,908.8 1047.4,909.1 1048.8,909.0 1050.2,909.2 1051.6,909.2 1052.9,910.0 1054.3,909.9 1055.7,910.5 1057.1,911.1 1058.4,910.6 1059.8,910.1 1061.2,910.5 1062.6,910.4 1064.0,910.7 1065.3,911.8 1066.7,911.5 1068.1,910.9 1069.5,911.9 1070.8,912.2 1072.2,911.6 1073.6,911.6 1075.0,911.8 1076.3,912.1 1077.7,912.3 1079.1,912.6 1080.5,912.7 1081.8,912.8 1083.2,912.9 1084.6,912.7 1086.0,911.8 1087.4,912.5 1088.7,912.7 1090.1,912.5 1091.5,913.0 1092.9,912.6 1094.2,912.4 1095.6,913.4 1097.0,913.1 1098.4,913.0 1099.7,913.3 1101.1,913.4 1102.5,913.1 1104.4,917.6 1106.6,916.3 1108.8,917.1 1111.0,917.1 1113.2,916.7 1115.4,917.2 1117.6,917.6 1119.8,916.7 1122.0,916.8 1124.0,916.2 1126.0,917.7 1128.0,916.5 1130.0,916.1 1132.0,916.8 1134.0,916.8 1136.0,916.2 1138.0,916.9 1140.0,916.5 1142.0,916.2 1144.0,915.9 1146.0,916.4 1148.0,916.6 1150.0,915.8 1152.0,916.2 1154.0,916.0 1156.0,915.4 1158.0,916.2 1160.0,913.8 1162.0,913.6 1164.0,914.6 1166.0,914.3 1168.0,914.6 1170.0,915.0 1172.0,915.2 1174.0,915.1 1176.0,915.2 1178.0,914.4 1180.0,914.6 1182.0,914.1 1184.0,914.1 1186.0,914.7 1188.0,914.7 1190.0,915.1 1192.0,914.6 1194.0,914.4 1196.2,915.2 1198.4,915.6 1200.6,915.1 1202.8,914.5 1205.0,915.5 1207.1,914.9 1209.2,914.7 1211.3,916.2 1213.3,914.9 1215.4,915.9 1217.5,915.5 1219.6,915.2" fill="none" stroke="#000" stroke-width="3.0" stroke-linejoin="round" stroke-linecap="round"/>
<polyline points="801.0,917.9 802.0,917.8 803.0,917.7 804.0,917.6 805.0,917.5 806.0,917.4 807.1,917.2 808.1,917.1 809.1,917.0 810.1,916.9 811.1,916.8 812.1,916.7 813.1,916.6 814.1,916.4 815.1,916.3 816.1,916.2 817.1,916.1 818.1,915.9 819.2,915.8 820.2,915.6 821.2,915.5 822.2,915.4 823.2,915.2 824.2,915.1 825.2,914.9 826.2,914.7 827.2,914.6 828.2,914.4 829.2,914.2 830.2,914.0 831.3,913.9 832.3,913.7 833.3,913.5 834.3,913.3 835.3,913.1 836.3,912.8 837.3,912.6 838.3,912.4 839.3,912.2 840.3,911.9 841.3,911.6 842.3,911.4 843.4,911.1 844.4,910.8 845.4,910.5 846.4,910.1 847.4,909.8 848.4,909.4 849.4,909.0 850.4,908.6 851.4,908.3 852.4,907.8 853.4,907.4 854.4,906.9 855.5,906.4 856.5,905.8 857.5,905.2 858.5,904.6 859.5,903.9 860.5,903.1 861.5,902.3 862.5,901.4 863.5,900.4 864.5,899.3 865.5,898.1 866.5,896.9 867.6,895.5 868.6,894.0 869.6,892.4 870.6,890.7 871.6,888.8 872.6,886.7 873.6,884.5 874.6,882.1 875.6,879.6 876.6,876.9 877.6,873.9 878.6,870.8 879.7,867.4 880.7,863.8 881.7,860.0 882.7,855.9 883.7,851.6 884.7,847.1 885.7,842.3 886.7,837.2 887.7,831.9 888.7,826.3 889.7,820.4 890.7,814.4 891.8,808.0 892.8,801.4 893.8,794.6 894.8,787.6 895.8,780.3 896.8,772.9 897.8,765.3 898.8,757.6 899.8,749.7 900.8,741.7 901.8,733.6 902.8,725.5 903.9,717.4 904.9,709.3 905.9,701.3 906.9,693.4 907.9,685.7 908.9,678.1 909.9,670.9 910.9,663.9 911.9,657.3 912.9,651.1 913.9,645.4 914.9,640.2 916.0,635.5 917.0,631.5 918.0,628.1 919.0,625.4 920.0,623.3 921.0,622.0 922.0,621.3 923.0,621.4 924.0,622.1 925.0,623.5 926.0,625.4 927.0,628.0 928.1,631.0 929.1,634.6 930.1,638.6 931.1,642.9 932.1,647.6 933.1,652.6 934.1,657.8 935.1,663.2 936.1,668.8 937.1,674.4 938.1,680.1 939.1,685.9 940.2,691.7 941.2,697.4 942.2,703.1 943.2,708.7 944.2,714.2 945.2,719.7 946.2,725.0 947.2,730.1 948.2,735.1 949.2,740.0 950.2,744.7 951.2,749.3 952.3,753.7 953.3,757.9 954.3,761.9 955.3,765.9 956.3,769.6 957.3,773.2 958.3,776.7 959.3,780.0 960.3,783.2 961.3,786.3 962.3,789.2 963.3,792.1 964.4,794.9 965.4,797.5 966.4,800.1 967.4,802.6 968.4,805.1 969.4,807.5 970.4,809.8 971.4,812.1 972.4,814.4 973.4,816.6 974.4,818.8 975.4,820.9 976.5,823.1 977.5,825.2 978.5,827.3 979.5,829.4 980.5,831.5 981.5,833.5 982.5,835.6 983.5,837.6 984.5,839.7 985.5,841.7 986.5,843.7 987.5,845.7 988.6,847.7 989.6,849.7 990.6,851.6 991.6,853.6 992.6,855.5 993.6,857.4 994.6,859.3 995.6,861.1 996.6,862.9 997.6,864.7 998.6,866.5 999.6,868.3 1000.7,870.0 1001.7,871.7 1002.7,873.3 1003.7,874.9 1004.7,876.5 1005.7,878.0 1006.7,879.5 1007.7,880.9 1008.7,882.4 1009.7,883.7 1010.7,885.1 1011.7,886.3 1012.8,887.6 1013.8,888.8 1014.8,890.0 1015.8,891.1 1016.8,892.1 1017.8,893.2 1018.8,894.2 1019.8,895.1 1020.8,896.0 1021.8,896.9 1022.8,897.7 1023.8,898.5 1024.9,899.3 1025.9,900.0 1026.9,900.7 1027.9,901.4 1028.9,902.0 1029.9,902.6 1030.9,903.2 1031.9,903.7 1032.9,904.2 1033.9,904.7 1034.9,905.1 1035.9,905.5 1037.0,906.0 1038.0,906.3 1039.0,906.7 1040.0,907.0 1041.0,907.4 1042.0,907.7 1043.0,907.9 1044.0,908.2 1045.0,908.5 1046.0,908.7 1047.0,908.9 1048.0,909.1 1049.1,909.3 1050.1,909.5 1051.1,909.7 1052.1,909.9 1053.1,910.0 1054.1,910.2 1055.1,910.3 1056.1,910.4 1057.1,910.6 1058.1,910.7 1059.1,910.8 1060.1,910.9 1061.2,911.0 1062.2,911.1 1063.2,911.2 1064.2,911.3 1065.2,911.4 1066.2,911.4 1067.2,911.5 1068.2,911.6 1069.2,911.7 1070.2,911.7 1071.2,911.8 1072.2,911.8 1073.3,911.9 1074.3,912.0 1075.3,912.0 1076.3,912.1 1077.3,912.1 1078.3,912.2 1079.3,912.2 1080.3,912.3 1081.3,912.3 1082.3,912.4 1083.3,912.4 1084.3,912.4 1085.4,912.5 1086.4,912.5 1087.4,912.6 1088.4,912.6 1089.4,912.6 1090.4,912.7 1091.4,912.7 1092.4,912.7 1093.4,912.8 1094.4,912.8 1095.4,912.8 1096.4,912.9 1097.5,912.9 1098.5,912.9 1099.5,912.9 1100.5,913.0 1101.5,913.0 1102.5,913.0" fill="none" stroke="#dc2a0c" stroke-width="3.4" stroke-linejoin="round" stroke-linecap="round"/>
<polyline points="801.0,923.1 802.0,923.1 803.0,923.1 804.0,923.1 805.0,923.1 806.0,923.1 807.1,923.1 808.1,923.1 809.1,923.1 810.1,923.1 811.1,923.1 812.1,923.1 813.1,923.1 814.1,923.1 815.1,923.1 816.1,923.1 817.1,923.1 818.1,923.1 819.2,923.1 820.2,923.1 821.2,923.1 822.2,923.1 823.2,923.1 824.2,923.1 825.2,923.1 826.2,923.1 827.2,923.1 828.2,923.1 829.2,923.1 830.2,923.1 831.3,923.1 832.3,923.1 833.3,923.1 834.3,923.1 835.3,923.1 836.3,923.1 837.3,923.1 838.3,923.1 839.3,923.1 840.3,923.1 841.3,923.1 842.3,923.1 843.4,923.1 844.4,923.1 845.4,923.1 846.4,923.1 847.4,923.1 848.4,923.1 849.4,923.1 850.4,923.1 851.4,923.1 852.4,923.1 853.4,923.1 854.4,923.1 855.5,923.0 856.5,923.0 857.5,923.0 858.5,923.0 859.5,923.0 860.5,923.0 861.5,923.0 862.5,923.0 863.5,923.0 864.5,923.0 865.5,923.0 866.5,923.0 867.6,922.9 868.6,922.9 869.6,922.9 870.6,922.9 871.6,922.9 872.6,922.9 873.6,922.9 874.6,922.8 875.6,922.8 876.6,922.8 877.6,922.8 878.6,922.7 879.7,922.7 880.7,922.7 881.7,922.6 882.7,922.6 883.7,922.6 884.7,922.5 885.7,922.5 886.7,922.5 887.7,922.4 888.7,922.4 889.7,922.3 890.7,922.3 891.8,922.2 892.8,922.2 893.8,922.1 894.8,922.1 895.8,922.0 896.8,922.0 897.8,921.9 898.8,921.8 899.8,921.8 900.8,921.7 901.8,921.6 902.8,921.5 903.9,921.5 904.9,921.4 905.9,921.3 906.9,921.2 907.9,921.1 908.9,921.1 909.9,921.0 910.9,920.9 911.9,920.8 912.9,920.7 913.9,920.6 914.9,920.5 916.0,920.4 917.0,920.3 918.0,920.2 919.0,920.1 920.0,920.0 921.0,919.9 922.0,919.8 923.0,919.7 924.0,919.6 925.0,919.5 926.0,919.4 927.0,919.3 928.1,919.2 929.1,919.1 930.1,919.0 931.1,918.9 932.1,918.8 933.1,918.7 934.1,918.6 935.1,918.5 936.1,918.4 937.1,918.3 938.1,918.2 939.1,918.1 940.2,918.0 941.2,917.9 942.2,917.9 943.2,917.8 944.2,917.7 945.2,917.6 946.2,917.5 947.2,917.5 948.2,917.4 949.2,917.3 950.2,917.2 951.2,917.2 952.3,917.1 953.3,917.0 954.3,917.0 955.3,916.9 956.3,916.9 957.3,916.8 958.3,916.8 959.3,916.7 960.3,916.7 961.3,916.6 962.3,916.6 963.3,916.5 964.4,916.5 965.4,916.5 966.4,916.4 967.4,916.4 968.4,916.4 969.4,916.3 970.4,916.3 971.4,916.3 972.4,916.2 973.4,916.2 974.4,916.2 975.4,916.2 976.5,916.1 977.5,916.1 978.5,916.1 979.5,916.1 980.5,916.1 981.5,916.1 982.5,916.1 983.5,916.0 984.5,916.0 985.5,916.0 986.5,916.0 987.5,916.0 988.6,916.0 989.6,916.0 990.6,916.0 991.6,916.0 992.6,916.0 993.6,916.0 994.6,915.9 995.6,915.9 996.6,915.9 997.6,915.9 998.6,915.9 999.6,915.9 1000.7,915.9 1001.7,915.9 1002.7,915.9 1003.7,915.9 1004.7,915.9 1005.7,915.9 1006.7,915.9 1007.7,915.9 1008.7,915.9 1009.7,915.9 1010.7,915.9 1011.7,915.9 1012.8,915.9 1013.8,915.9 1014.8,915.9 1015.8,915.9 1016.8,915.9 1017.8,915.9 1018.8,915.9 1019.8,915.9 1020.8,915.9 1021.8,915.9 1022.8,915.9 1023.8,915.9 1024.9,915.9 1025.9,915.9 1026.9,915.9 1027.9,915.9 1028.9,915.9 1029.9,915.9 1030.9,915.9 1031.9,915.9 1032.9,915.9 1033.9,915.9 1034.9,915.9 1035.9,915.9 1037.0,915.9 1038.0,915.9 1039.0,915.9 1040.0,915.9 1041.0,915.9 1042.0,915.9 1043.0,915.9 1044.0,915.9 1045.0,915.9 1046.0,915.9 1047.0,915.9 1048.0,915.9 1049.1,915.9 1050.1,915.9 1051.1,915.9 1052.1,915.9 1053.1,915.9 1054.1,915.9 1055.1,915.9 1056.1,915.9 1057.1,915.9 1058.1,915.9 1059.1,915.9 1060.1,915.9 1061.2,915.9 1062.2,915.9 1063.2,915.9 1064.2,915.9 1065.2,915.9 1066.2,915.9 1067.2,915.9 1068.2,915.9 1069.2,915.9 1070.2,915.9 1071.2,915.9 1072.2,915.9 1073.3,915.9 1074.3,915.9 1075.3,915.9 1076.3,915.9 1077.3,915.9 1078.3,915.9 1079.3,915.9 1080.3,915.9 1081.3,915.9 1082.3,915.9 1083.3,915.9 1084.3,915.9 1085.4,915.9 1086.4,915.9 1087.4,915.9 1088.4,915.9 1089.4,915.9 1090.4,915.9 1091.4,915.9 1092.4,915.9 1093.4,915.9 1094.4,915.9 1095.4,915.9 1096.4,915.9 1097.5,915.9 1098.5,915.9 1099.5,915.9 1100.5,915.9 1101.5,915.9 1102.5,915.9" fill="none" stroke="#1414f5" stroke-width="3.2" stroke-linejoin="round" stroke-linecap="round"/>
<polyline points="801.0,922.1 802.0,922.1 803.0,922.1 804.0,922.1 805.0,922.1 806.0,922.1 807.1,922.1 808.1,922.1 809.1,922.1 810.1,922.1 811.1,922.1 812.1,922.1 813.1,922.1 814.1,922.1 815.1,922.1 816.1,922.1 817.1,922.0 818.1,922.0 819.2,922.0 820.2,922.0 821.2,922.0 822.2,922.0 823.2,922.0 824.2,922.0 825.2,922.0 826.2,922.0 827.2,922.0 828.2,922.0 829.2,921.9 830.2,921.9 831.3,921.9 832.3,921.9 833.3,921.9 834.3,921.9 835.3,921.9 836.3,921.9 837.3,921.9 838.3,921.8 839.3,921.8 840.3,921.8 841.3,921.8 842.3,921.8 843.4,921.8 844.4,921.7 845.4,921.7 846.4,921.7 847.4,921.7 848.4,921.7 849.4,921.6 850.4,921.6 851.4,921.6 852.4,921.6 853.4,921.5 854.4,921.5 855.5,921.5 856.5,921.4 857.5,921.4 858.5,921.4 859.5,921.3 860.5,921.3 861.5,921.2 862.5,921.2 863.5,921.1 864.5,921.1 865.5,921.0 866.5,920.9 867.6,920.9 868.6,920.8 869.6,920.7 870.6,920.6 871.6,920.5 872.6,920.4 873.6,920.3 874.6,920.1 875.6,920.0 876.6,919.9 877.6,919.7 878.6,919.5 879.7,919.4 880.7,919.2 881.7,919.0 882.7,918.7 883.7,918.5 884.7,918.2 885.7,918.0 886.7,917.7 887.7,917.4 888.7,917.0 889.7,916.7 890.7,916.3 891.8,915.9 892.8,915.5 893.8,915.0 894.8,914.6 895.8,914.1 896.8,913.5 897.8,913.0 898.8,912.4 899.8,911.7 900.8,911.1 901.8,910.4 902.8,909.7 903.9,908.9 904.9,908.1 905.9,907.2 906.9,906.4 907.9,905.4 908.9,904.5 909.9,903.5 910.9,902.5 911.9,901.4 912.9,900.3 913.9,899.1 914.9,897.9 916.0,896.7 917.0,895.4 918.0,894.1 919.0,892.7 920.0,891.3 921.0,889.9 922.0,888.4 923.0,887.0 924.0,885.4 925.0,883.9 926.0,882.3 927.0,880.7 928.1,879.0 929.1,877.4 930.1,875.7 931.1,874.0 932.1,872.3 933.1,870.6 934.1,868.9 935.1,867.2 936.1,865.5 937.1,863.8 938.1,862.1 939.1,860.4 940.2,858.8 941.2,857.1 942.2,855.5 943.2,853.9 944.2,852.4 945.2,850.9 946.2,849.4 947.2,848.0 948.2,846.6 949.2,845.3 950.2,844.1 951.2,842.9 952.3,841.8 953.3,840.8 954.3,839.8 955.3,839.0 956.3,838.2 957.3,837.5 958.3,836.9 959.3,836.4 960.3,836.0 961.3,835.7 962.3,835.4 963.3,835.3 964.4,835.3 965.4,835.4 966.4,835.6 967.4,835.8 968.4,836.2 969.4,836.7 970.4,837.2 971.4,837.9 972.4,838.6 973.4,839.4 974.4,840.3 975.4,841.3 976.5,842.4 977.5,843.5 978.5,844.6 979.5,845.9 980.5,847.2 981.5,848.5 982.5,849.9 983.5,851.3 984.5,852.8 985.5,854.3 986.5,855.8 987.5,857.4 988.6,859.0 989.6,860.6 990.6,862.2 991.6,863.8 992.6,865.4 993.6,867.0 994.6,868.6 995.6,870.2 996.6,871.8 997.6,873.3 998.6,874.9 999.6,876.4 1000.7,878.0 1001.7,879.4 1002.7,880.9 1003.7,882.4 1004.7,883.8 1005.7,885.1 1006.7,886.5 1007.7,887.8 1008.7,889.1 1009.7,890.3 1010.7,891.5 1011.7,892.7 1012.8,893.8 1013.8,894.9 1014.8,895.9 1015.8,896.9 1016.8,897.9 1017.8,898.8 1018.8,899.7 1019.8,900.6 1020.8,901.4 1021.8,902.2 1022.8,902.9 1023.8,903.6 1024.9,904.3 1025.9,904.9 1026.9,905.5 1027.9,906.1 1028.9,906.7 1029.9,907.2 1030.9,907.7 1031.9,908.1 1032.9,908.6 1033.9,909.0 1034.9,909.4 1035.9,909.7 1037.0,910.1 1038.0,910.4 1039.0,910.7 1040.0,911.0 1041.0,911.2 1042.0,911.5 1043.0,911.7 1044.0,911.9 1045.0,912.1 1046.0,912.3 1047.0,912.5 1048.0,912.6 1049.1,912.8 1050.1,912.9 1051.1,913.0 1052.1,913.1 1053.1,913.3 1054.1,913.4 1055.1,913.5 1056.1,913.5 1057.1,913.6 1058.1,913.7 1059.1,913.8 1060.1,913.8 1061.2,913.9 1062.2,914.0 1063.2,914.0 1064.2,914.1 1065.2,914.1 1066.2,914.1 1067.2,914.2 1068.2,914.2 1069.2,914.3 1070.2,914.3 1071.2,914.3 1072.2,914.3 1073.3,914.4 1074.3,914.4 1075.3,914.4 1076.3,914.4 1077.3,914.5 1078.3,914.5 1079.3,914.5 1080.3,914.5 1081.3,914.5 1082.3,914.6 1083.3,914.6 1084.3,914.6 1085.4,914.6 1086.4,914.6 1087.4,914.6 1088.4,914.6 1089.4,914.7 1090.4,914.7 1091.4,914.7 1092.4,914.7 1093.4,914.7 1094.4,914.7 1095.4,914.7 1096.4,914.7 1097.5,914.7 1098.5,914.8 1099.5,914.8 1100.5,914.8 1101.5,914.8 1102.5,914.8" fill="none" stroke="#417a7a" stroke-width="3.2" stroke-linejoin="round" stroke-linecap="round"/>
<polyline points="801.0,918.5 802.0,918.5 803.0,918.4 804.0,918.3 805.0,918.3 806.0,918.2 807.1,918.1 808.1,918.0 809.1,918.0 810.1,917.9 811.1,917.8 812.1,917.7 813.1,917.6 814.1,917.5 815.1,917.4 816.1,917.3 817.1,917.2 818.1,917.1 819.2,917.0 820.2,916.9 821.2,916.8 822.2,916.7 823.2,916.6 824.2,916.5 825.2,916.3 826.2,916.2 827.2,916.1 828.2,916.0 829.2,915.8 830.2,915.7 831.3,915.5 832.3,915.4 833.3,915.2 834.3,915.0 835.3,914.9 836.3,914.7 837.3,914.5 838.3,914.3 839.3,914.1 840.3,913.9 841.3,913.7 842.3,913.4 843.4,913.2 844.4,912.9 845.4,912.6 846.4,912.3 847.4,912.0 848.4,911.7 849.4,911.4 850.4,911.0 851.4,910.6 852.4,910.2 853.4,909.7 854.4,909.2 855.5,908.7 856.5,908.1 857.5,907.5 858.5,906.9 859.5,906.2 860.5,905.4 861.5,904.6 862.5,903.6 863.5,902.7 864.5,901.6 865.5,900.4 866.5,899.2 867.6,897.8 868.6,896.4 869.6,894.8 870.6,893.0 871.6,891.2 872.6,889.2 873.6,887.0 874.6,884.7 875.6,882.2 876.6,879.5 877.6,876.6 878.6,873.5 879.7,870.2 880.7,866.7 881.7,863.0 882.7,859.0 883.7,854.8 884.7,850.4 885.7,845.7 886.7,840.8 887.7,835.7 888.7,830.2 889.7,824.6 890.7,818.7 891.8,812.6 892.8,806.3 893.8,799.7 894.8,793.0 895.8,786.0 896.8,778.9 897.8,771.7 898.8,764.3 899.8,756.8 900.8,749.3 901.8,741.7 902.8,734.1 903.9,726.5 904.9,719.0 905.9,711.6 906.9,704.4 907.9,697.3 908.9,690.5 909.9,684.0 910.9,677.9 911.9,672.2 912.9,666.9 913.9,662.2 914.9,658.0 916.0,654.4 917.0,651.5 918.0,649.3 919.0,647.8 920.0,647.0 921.0,647.0 922.0,647.7 923.0,649.1 924.0,651.2 925.0,654.1 926.0,657.6 927.0,661.7 928.1,666.3 929.1,671.5 930.1,677.1 931.1,683.1 932.1,689.5 933.1,696.1 934.1,703.0 935.1,710.1 936.1,717.4 937.1,724.7 938.1,732.1 939.1,739.6 940.2,747.0 941.2,754.4 942.2,761.7 943.2,768.9 944.2,776.0 945.2,782.9 946.2,789.7 947.2,796.2 948.2,802.6 949.2,808.8 950.2,814.7 951.2,820.5 952.3,826.0 953.3,831.2 954.3,836.2 955.3,841.0 956.3,845.5 957.3,849.8 958.3,853.9 959.3,857.7 960.3,861.4 961.3,864.8 962.3,867.9 963.3,870.9 964.4,873.7 965.4,876.3 966.4,878.7 967.4,880.9 968.4,883.0 969.4,885.0 970.4,886.8 971.4,888.4 972.4,889.9 973.4,891.3 974.4,892.6 975.4,893.8 976.5,895.0 977.5,896.0 978.5,896.9 979.5,897.8 980.5,898.6 981.5,899.3 982.5,900.0 983.5,900.6 984.5,901.2 985.5,901.8 986.5,902.3 987.5,902.7 988.6,903.2 989.6,903.6 990.6,904.0 991.6,904.3 992.6,904.7 993.6,905.0 994.6,905.3 995.6,905.5 996.6,905.8 997.6,906.1 998.6,906.3 999.6,906.5 1000.7,906.8 1001.7,907.0 1002.7,907.2 1003.7,907.4 1004.7,907.5 1005.7,907.7 1006.7,907.9 1007.7,908.0 1008.7,908.2 1009.7,908.4 1010.7,908.5 1011.7,908.6 1012.8,908.8 1013.8,908.9 1014.8,909.1 1015.8,909.2 1016.8,909.3 1017.8,909.4 1018.8,909.5 1019.8,909.6 1020.8,909.8 1021.8,909.9 1022.8,910.0 1023.8,910.1 1024.9,910.2 1025.9,910.3 1026.9,910.3 1027.9,910.4 1028.9,910.5 1029.9,910.6 1030.9,910.7 1031.9,910.8 1032.9,910.8 1033.9,910.9 1034.9,911.0 1035.9,911.1 1037.0,911.1 1038.0,911.2 1039.0,911.3 1040.0,911.3 1041.0,911.4 1042.0,911.5 1043.0,911.5 1044.0,911.6 1045.0,911.7 1046.0,911.7 1047.0,911.8 1048.0,911.8 1049.1,911.9 1050.1,911.9 1051.1,912.0 1052.1,912.0 1053.1,912.1 1054.1,912.1 1055.1,912.2 1056.1,912.2 1057.1,912.3 1058.1,912.3 1059.1,912.4 1060.1,912.4 1061.2,912.4 1062.2,912.5 1063.2,912.5 1064.2,912.6 1065.2,912.6 1066.2,912.6 1067.2,912.7 1068.2,912.7 1069.2,912.7 1070.2,912.8 1071.2,912.8 1072.2,912.8 1073.3,912.9 1074.3,912.9 1075.3,912.9 1076.3,913.0 1077.3,913.0 1078.3,913.0 1079.3,913.1 1080.3,913.1 1081.3,913.1 1082.3,913.1 1083.3,913.2 1084.3,913.2 1085.4,913.2 1086.4,913.3 1087.4,913.3 1088.4,913.3 1089.4,913.3 1090.4,913.4 1091.4,913.4 1092.4,913.4 1093.4,913.4 1094.4,913.4 1095.4,913.5 1096.4,913.5 1097.5,913.5 1098.5,913.5 1099.5,913.6 1100.5,913.6 1101.5,913.6 1102.5,913.6" fill="none" stroke="#dd33f5" stroke-width="3.2" stroke-linejoin="round" stroke-linecap="round"/>
<path d="M719.00 554.70H1222.60M719.00 938.40H1222.60" stroke="#000" stroke-width="2.8" fill="none"/>
<path d="M720.60 553.30V939.80M1221.00 553.30V939.80" stroke="#000" stroke-width="3.2" fill="none"/>
<line x1="716.1" y1="595.2" x2="720.6" y2="595.2" stroke="#000" stroke-width="2.5" stroke-linecap="butt"/>
<line x1="712.6" y1="670.0" x2="720.6" y2="670.0" stroke="#000" stroke-width="2.5" stroke-linecap="butt"/>
<line x1="716.1" y1="744.4" x2="720.6" y2="744.4" stroke="#000" stroke-width="2.5" stroke-linecap="butt"/>
<line x1="712.6" y1="818.8" x2="720.6" y2="818.8" stroke="#000" stroke-width="2.5" stroke-linecap="butt"/>
<line x1="716.1" y1="893.6" x2="720.6" y2="893.6" stroke="#000" stroke-width="2.5" stroke-linecap="butt"/>
<text x="696.12" y="971.00" font-size="30.5">526</text>
<text x="772.80" y="971.00" font-size="30.5">528</text>
<text x="849.73" y="971.00" font-size="30.5">530</text>
<text x="926.52" y="971.00" font-size="30.5">532</text>
<text x="1002.83" y="971.00" font-size="30.5">534</text>
<text x="1080.12" y="971.00" font-size="30.5">536</text>
<text x="1156.80" y="971.00" font-size="30.5">538</text>
<line x1="1100.0" y1="580.6" x2="1142.5" y2="580.6" stroke="#417a7a" stroke-width="3.8" stroke-linecap="round"/>
<text x="1147.05" y="586.40" font-size="30">C-O</text>
<line x1="1100.0" y1="617.7" x2="1142.5" y2="617.7" stroke="#dd33f5" stroke-width="3.8" stroke-linecap="round"/>
<text x="1150.45" y="623.30" font-size="30">C=O</text>
<text transform="translate(624.32,555.80) scale(0.9396,1)" font-size="43">D</text>
<text transform="translate(776.50,1029.20) scale(0.9802,1)" font-size="41.5">Binding Energy (eV)</text>
<text transform="translate(677.60,834.07) rotate(-90) scale(0.9530,1)" font-size="42.8">Counts</text>
</svg></body></html>
